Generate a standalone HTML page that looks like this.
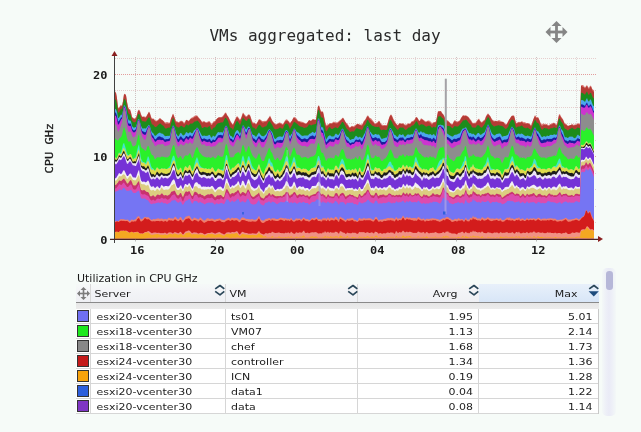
<!DOCTYPE html>
<html><head><meta charset="utf-8">
<style>
html,body{margin:0;padding:0;}
body{width:641px;height:432px;overflow:hidden;background:#f6fbf8;position:relative;font-family:"DejaVu Sans","Liberation Sans",sans-serif;}
svg.chart{position:absolute;left:0;top:0;}
.gm{stroke:#e2c0c0;stroke-width:1;stroke-dasharray:1 1;opacity:.75}
.gM{stroke:#e08c8c;stroke-width:1;stroke-dasharray:1 1;opacity:.85}
.vm{stroke:#d6cccc;stroke-width:1;stroke-dasharray:1 1;opacity:.75}
.vM{stroke:#c8b8b8;stroke-width:1;stroke-dasharray:1 1;opacity:.85}
.tk{stroke:#707070;stroke-width:1;opacity:.45}
.ax{font-family:"DejaVu Sans Mono",monospace;font-size:12px;font-weight:bold;fill:#1a1a1a}
.ttl{font-family:"DejaVu Sans Mono",monospace;font-size:16px;fill:#2a2a2a}
.yl{font-family:"DejaVu Sans Mono",monospace;font-size:12px;fill:#1a1a1a;stroke:#1a1a1a;stroke-width:0.35px}
.cap{position:absolute;left:77px;top:272px;font-size:11px;color:#1a1a1a;white-space:nowrap;transform:scaleY(0.9);transform-origin:0 10.2px}
.tbl{position:absolute;left:76px;top:284px;width:522.5px;}
.hdr{position:absolute;left:0;top:0;width:522.5px;height:18px;background:linear-gradient(#f6f9f8,#f3f4f7 40%,#eff0f4);border-bottom:1px solid #8a8a8a;}
.hc{position:absolute;top:0;height:18px;font-size:11px;color:#1a1a1a;line-height:19px;white-space:nowrap;transform:scaleY(0.86);transform-origin:0 13.3px}
.band{position:absolute;left:0;top:19px;width:522.5px;height:5.5px;background:linear-gradient(#e6e6e6,#ececec)}
.body{position:absolute;left:0;top:24.5px;width:522.5px;height:105px;background:#fff;}
.row{position:absolute;left:0;width:522.5px;height:15px;border-bottom:1px solid #d6d6d6;box-sizing:border-box}
.cell{position:absolute;top:0;height:14px;font-size:11px;line-height:15px;color:#1c1c1c;white-space:nowrap;transform:scaleY(0.86);transform-origin:0 11.3px}
.sw{position:absolute;left:1px;top:1.5px;width:10px;height:10px;border:1px solid #333}
.vl{position:absolute;top:0;width:1px;background:#d6d6d6}
.sb{position:absolute;left:602px;top:267.5px;width:14px;height:148px;border-radius:5px;background:linear-gradient(to right,rgba(238,242,246,0.3),#edeff7 30%,#eaebf6 50%,#edeff7 70%,rgba(238,242,246,0.3))}
.sbt{position:absolute;left:4.1px;top:3.3px;width:6.6px;height:19.3px;border-radius:3.3px;background:#b6b7d8}
</style></head><body>
<svg class="chart" width="641" height="432" viewBox="0 0 641 432">
<g><line x1="115" x2="597" y1="222.5" y2="222.5" class="gm"/>
<line x1="115" x2="597" y1="206.5" y2="206.5" class="gm"/>
<line x1="115" x2="597" y1="189.5" y2="189.5" class="gm"/>
<line x1="115" x2="597" y1="173.5" y2="173.5" class="gm"/>
<line x1="115" x2="597" y1="156.5" y2="156.5" class="gM"/>
<line x1="115" x2="597" y1="140.5" y2="140.5" class="gm"/>
<line x1="115" x2="597" y1="123.5" y2="123.5" class="gm"/>
<line x1="115" x2="597" y1="107.5" y2="107.5" class="gm"/>
<line x1="115" x2="597" y1="90.5" y2="90.5" class="gm"/>
<line x1="115" x2="597" y1="74.5" y2="74.5" class="gM"/>
<line x1="115" x2="597" y1="58.5" y2="58.5" class="gm"/>
<line y1="57" y2="238.0" x1="135.5" x2="135.5" class="vM"/>
<line y1="57" y2="238.0" x1="155.5" x2="155.5" class="vm"/>
<line y1="57" y2="238.0" x1="175.5" x2="175.5" class="vm"/>
<line y1="57" y2="238.0" x1="195.5" x2="195.5" class="vm"/>
<line y1="57" y2="238.0" x1="215.5" x2="215.5" class="vM"/>
<line y1="57" y2="238.0" x1="235.5" x2="235.5" class="vm"/>
<line y1="57" y2="238.0" x1="255.5" x2="255.5" class="vm"/>
<line y1="57" y2="238.0" x1="275.5" x2="275.5" class="vm"/>
<line y1="57" y2="238.0" x1="295.5" x2="295.5" class="vM"/>
<line y1="57" y2="238.0" x1="315.5" x2="315.5" class="vm"/>
<line y1="57" y2="238.0" x1="335.5" x2="335.5" class="vm"/>
<line y1="57" y2="238.0" x1="355.5" x2="355.5" class="vm"/>
<line y1="57" y2="238.0" x1="375.5" x2="375.5" class="vM"/>
<line y1="57" y2="238.0" x1="395.5" x2="395.5" class="vm"/>
<line y1="57" y2="238.0" x1="415.5" x2="415.5" class="vm"/>
<line y1="57" y2="238.0" x1="435.5" x2="435.5" class="vm"/>
<line y1="57" y2="238.0" x1="456.5" x2="456.5" class="vM"/>
<line y1="57" y2="238.0" x1="476.5" x2="476.5" class="vm"/>
<line y1="57" y2="238.0" x1="496.5" x2="496.5" class="vm"/>
<line y1="57" y2="238.0" x1="516.5" x2="516.5" class="vm"/>
<line y1="57" y2="238.0" x1="536.5" x2="536.5" class="vM"/>
<line y1="57" y2="238.0" x1="556.5" x2="556.5" class="vm"/>
<line y1="57" y2="238.0" x1="576.5" x2="576.5" class="vm"/></g>
<defs><filter id="sf" x="-2%" y="-2%" width="104%" height="104%"><feGaussianBlur stdDeviation="0.35"/></filter></defs>
<g filter="url(#sf)"><path fill="#dc7c78" d="M115 239.0V91.2l1 1.4 1 5.7 1 9.1 1 -0 1 -1.4 1 -1.4 1 1.3 1 -5.1 1 -6.7 1 -0.3 1 1.1 1 6.7 1 4.9 1 2.6 1 -0 1 2.8 1 4.8 1 0.8 1 1.1 1 -0.5 1 -0.6 1 -3.1 1 -4.1 1 -0.7 1 1.2 1 3.1 1 2.5 1 0.1 1 -0.3 1 0.6 1 -0.1 1 -1.8 1 -1.6 1 -1.7 1 1.7 1 3.1 1 2.3 1 -0.4 1 0.8 1 0.8 1 0.6 1 0 1 -0.8 1 -0.9 1 -1.1 1 1.2 1 0.8 1 0.8 1 0.7 1 1.3 1 -0.2 1 -0.4 1 0.3 1 0.5 1 -0.4 1 -4 1 -2.3 1 -2.6 1 2.2 1 2.6 1 3.1 1 -0.2 1 0.8 1 0.2 1 -1 1 -0.4 1 -0 1 0.9 1 1.1 1 -0.6 1 -2.1 1 -0.3 1 1 1 -0.1 1 -1.3 1 -1.4 1 -0.4 1 -0.5 1 -0.8 1 -0.6 1 0 1 -0.4 1 1.4 1 1.2 1 1.2 1 1.3 1 1.4 1 -0.1 1 -0.6 1 0.8 1 0.4 1 -0.1 1 -0.5 1 -0.6 1 0.4 1 2.2 1 0.2 1 -1.9 1 -0.8 1 0 1 -1.4 1 -1.2 1 -0.8 1 -0.6 1 0.3 1 -0.4 1 -0.3 1 -1.1 1 -1.2 1 -1.7 1 -0.3 1 2.4 1 1.4 1 1.7 1 2 1 1.9 1 1.5 1 1.2 1 -2.5 1 -2.4 1 -1.9 1 -1.8 1 1 1 1.3 1 1.6 1 -1.9 1 -2.8 1 -2.7 1 1.3 1 1.3 1 1 1 0.1 1 -1.5 1 -0.3 1 0.7 1 2.8 1 2.9 1 2.1 1 -0.5 1 0.8 1 1.1 1 -1.5 1 -1.8 1 -1.9 1 0.5 1 0.3 1 1.3 1 -0.1 1 -0.1 1 -0.1 1 0.3 1 -1 1 -1.5 1 -1.4 1 -1.6 1 1.9 1 2.2 1 1.7 1 1.2 1 1 1 0.7 1 -0.9 1 -0 1 -0.9 1 0.1 1 0.5 1 0.5 1 0.5 1 -1.8 1 -1.8 1 -0.9 1 -0.4 1 1.2 1 0.9 1 1.7 1 -1.6 1 -0.9 1 -2.3 1 -1.4 1 0.8 1 0.2 1 1.5 1 1.5 1 0.2 1 0.2 1 0.4 1 0.1 1 0.4 1 0.5 1 0.6 1 0.3 1 -0.7 1 -1.4 1 -1.1 1 0.1 1 0.5 1 -0.8 1 -1.2 1 0.4 1 0.1 1 0.4 1 -6.7 1 -7 1 -0.9 1 3.2 1 2.9 1 -0.1 1 0.2 1 4.4 1 5 1 4.2 1 -0.4 1 -0 1 -0.8 1 -0.7 1 0.1 1 -0.3 1 -1 1 -0.5 1 0.8 1 -0.1 1 0.4 1 -0.7 1 -0.9 1 -0.9 1 -0.5 1 -1.3 1 -0.8 1 1.7 1 1.9 1 1.4 1 1.2 1 0.9 1 2.1 1 0.7 1 -0.8 1 -0.8 1 0.5 1 -0.1 1 -1 1 -0.7 1 -0.2 1 -0.4 1 0.5 1 0.2 1 0.1 1 -0.4 1 -1.5 1 -1.9 1 -0.9 1 -1.9 1 -2 1 -0.7 1 1.6 1 1 1 0.4 1 1.2 1 1.3 1 1.3 1 1.6 1 -0.6 1 -0.6 1 -0.7 1 -1.3 1 1.4 1 2 1 0.7 1 0.4 1 0 1 -0.1 1 -0 1 -0.2 1 -3.3 1 -3.4 1 -2.5 1 -1.2 1 1.2 1 2.5 1 2 1 1.7 1 1.5 1 1.2 1 0.9 1 -1.8 1 -0.6 1 0.5 1 0.1 1 -0.4 1 0.8 1 0.5 1 0.1 1 -0.2 1 -1.1 1 0.2 1 0.5 1 -1.9 1 -1.1 1 0 1 -1 1 -1.1 1 -1.9 1 0.3 1 1.6 1 2 1 -0.6 1 -1.9 1 0.5 1 0.7 1 0.8 1 0.6 1 0.6 1 -0.4 1 -0.7 1 0.1 1 0.4 1 1.1 1 1 1 -0.6 1 -0.5 1 0.3 1 -0.6 1 -5.3 1 -5.3 1 0.1 1 -0.2 1 -0 1 2 1 1 1 1.6 1 2.1 1 1.6 1 0.8 1 0.5 1 0.9 1 1.3 1 1 1 0.3 1 -1.1 1 -2.2 1 -0.8 1 1 1 0.5 1 -0.1 1 -0.6 1 -0.7 1 -2.2 1 -1.2 1 -1.6 1 0.3 1 0.1 1 -0.1 1 0.6 1 0.7 1 0.9 1 1.5 1 1 1 2 1 0.9 1 -0.2 1 0 1 -0.4 1 -1.9 1 -1.2 1 -0.7 1 1.9 1 1.2 1 0.6 1 -1.4 1 -0.6 1 -1.3 1 -2.9 1 -1.4 1 -1.4 1 1.4 1 1.1 1 1.7 1 1.8 1 0.8 1 0.8 1 0 1 0 1 0.1 1 -0.4 1 -0.5 1 0.5 1 0.5 1 0.6 1 0.1 1 0.5 1 1.4 1 0.8 1 -1.2 1 -1.6 1 -1.8 1 -1.4 1 -1.6 1 -1.3 1 0 1 -0.2 1 3.8 1 3.7 1 -0.1 1 -0.7 1 -0.3 1 0.4 1 -0.4 1 -0.6 1 1 1 0.2 1 -0.3 1 1 1 -0.1 1 0.1 1 0.4 1 0.5 1 1.6 1 -2.3 1 -3 1 -2.6 1 -2.5 1 1.3 1 0.9 1 -0.2 1 1.9 1 2.6 1 2.4 1 0.3 1 -0.7 1 -0.1 1 0.7 1 -0.2 1 0.1 1 0.8 1 0.2 1 -0.8 1 -0.5 1 -0.3 1 -0.8 1 0.1 1 0.5 1 1.3 1 -0.5 1 -4.9 1 -4.9 1 -0.1 1 2.2 1 1.4 1 1.5 1 2.5 1 2.1 1 -0.3 1 1.3 1 0.9 1 -0.2 1 -0.4 1 -0.3 1 -0.8 1 0.5 1 0.3 1 -0.6 1 0.3 1 -0.7 1 -0.8 1 0.5 1 0.3 1 -38.5 1 -0.4 1 0.1 1 1 1 1.3 1 -1.5 1 -0.9 1 1.9 1 0.9 1 -2.1 1 0.1 1 2.8 1 1.1 1 0.4V239.0Z"/>
<path fill="#b53b35" d="M115 239.0V92.3l1 0.8 1 5.6 1 9.5 1 0.3 1 -1.5 1 -1.6 1 1.1 1 -5.1 1 -6.8 1 -0.3 1 1.2 1 6.8 1 5.3 1 2.2 1 0.1 1 3.2 1 4.6 1 0.2 1 1.4 1 -0.2 1 -0.9 1 -3.2 1 -4.1 1 -0.5 1 1.7 1 3 1 1.9 1 0.1 1 0 1 0.6 1 -0.2 1 -1.9 1 -1.8 1 -1.8 1 2 1 3.4 1 2.1 1 -0.7 1 1 1 1.2 1 0.5 1 -0.2 1 -0.8 1 -0.7 1 -1.3 1 1 1 0.6 1 0.6 1 1.2 1 1.6 1 0.2 1 -0.2 1 -0.1 1 0.3 1 -0.7 1 -4.2 1 -2.3 1 -2.4 1 2.5 1 2.8 1 3 1 -0.5 1 0.9 1 0.1 1 -0.9 1 -0.4 1 -0.1 1 1.1 1 1.3 1 -1 1 -2.7 1 -0.3 1 1.3 1 -0 1 -1.4 1 -1 1 -0.2 1 -0.4 1 -0.8 1 -0.6 1 -0.4 1 -0.4 1 1.6 1 1 1 0.9 1 1.3 1 1.7 1 -0 1 -0.9 1 0.9 1 0.4 1 -0 1 -0.4 1 -0.6 1 0.5 1 2.5 1 0.1 1 -2 1 -0.6 1 -0.4 1 -1.9 1 -1.3 1 -0.7 1 -0.6 1 0.1 1 -0.2 1 -0 1 -0.7 1 -1.3 1 -1.9 1 -0.2 1 2.2 1 1.1 1 2 1 2.5 1 1.7 1 1.2 1 1.2 1 -2.5 1 -2.2 1 -1.9 1 -1.8 1 1.2 1 1.6 1 1.5 1 -2 1 -2.8 1 -3 1 1.4 1 1.6 1 0.9 1 -0.2 1 -1.8 1 -0.2 1 0.7 1 3.2 1 3 1 2 1 -0.8 1 0.6 1 1 1 -1.5 1 -1.5 1 -2 1 0.5 1 0.5 1 1.6 1 0.1 1 -0.1 1 -0.5 1 0 1 -0.8 1 -1.5 1 -1.7 1 -1.4 1 2 1 2.3 1 1.6 1 1.1 1 0.9 1 0.8 1 -0.8 1 -0.4 1 -0.7 1 0.2 1 0.5 1 0.6 1 0.6 1 -1.8 1 -1.7 1 -0.8 1 -0.4 1 0.8 1 1.1 1 1.4 1 -1.8 1 -1 1 -2.1 1 -1.2 1 1 1 0.3 1 1.3 1 1.3 1 0.2 1 0.4 1 0.6 1 0.1 1 0.1 1 0.4 1 0.5 1 0.2 1 -0.7 1 -1.6 1 -1.4 1 0.1 1 0.5 1 -0.8 1 -0.9 1 0.9 1 0 1 -0.1 1 -6.8 1 -6.7 1 -0.8 1 3.5 1 3 1 -0.2 1 0.2 1 4.6 1 5.2 1 4.5 1 -0.6 1 -0.4 1 -1.1 1 -0.8 1 0.1 1 -0 1 -0.7 1 -0.3 1 0.6 1 -0.1 1 0.3 1 -0.8 1 -0.8 1 -0.9 1 -0.8 1 -1.3 1 -0.9 1 1.4 1 2.1 1 1.6 1 1.7 1 0.8 1 1.9 1 0.5 1 -0.9 1 -0.5 1 0.5 1 0.2 1 -0.8 1 -1.2 1 -1 1 -0.3 1 0.7 1 0.2 1 0.6 1 0.1 1 -1.6 1 -2.4 1 -1.1 1 -1.5 1 -2 1 -0.9 1 1.6 1 1.5 1 0.7 1 1 1 1 1 1 1 1.6 1 -0.7 1 -0.4 1 -1 1 -1.4 1 1.5 1 2.3 1 1 1 0.4 1 -0.4 1 -0.1 1 0.2 1 -0.2 1 -3.8 1 -3.5 1 -2.4 1 -0.9 1 1.5 1 2.5 1 2.2 1 1.3 1 1.3 1 1 1 0.8 1 -1.6 1 -0.6 1 0.5 1 0.1 1 -0.3 1 0.9 1 0.8 1 0.1 1 -0.3 1 -1.3 1 -0.3 1 0.6 1 -1.4 1 -1.2 1 0.2 1 -0.9 1 -1.3 1 -2.1 1 -0.1 1 1.5 1 2 1 -0 1 -1.8 1 0.3 1 0.6 1 1 1 0.8 1 0.3 1 -0.5 1 -0.4 1 0.6 1 0.6 1 1.2 1 1 1 -1.2 1 -0.9 1 -0.2 1 -0.3 1 -5.2 1 -5.1 1 -0.1 1 -0.5 1 0.3 1 2 1 0.8 1 1.8 1 2.3 1 1.6 1 1.1 1 0.5 1 0.5 1 1.1 1 1.1 1 0.6 1 -1.1 1 -2.2 1 -0.7 1 1.1 1 0.4 1 -0.3 1 -0.6 1 -0.7 1 -2.3 1 -1.5 1 -1.3 1 0.5 1 -0.2 1 -0.3 1 0.8 1 0.6 1 1.1 1 1.7 1 1.1 1 1.9 1 0.8 1 -0.3 1 0.1 1 -0.3 1 -1.8 1 -1.1 1 -0.7 1 1.8 1 1.1 1 0.5 1 -1.4 1 -0.4 1 -1.2 1 -3.2 1 -1.3 1 -1.5 1 1.2 1 0.9 1 2 1 2 1 0.9 1 0.7 1 -0.4 1 -0.3 1 0.6 1 -0.2 1 -0.2 1 0.7 1 0.1 1 -0.1 1 0.2 1 0.9 1 1.6 1 0.5 1 -1.2 1 -1.6 1 -2.2 1 -1.5 1 -1.6 1 -1.2 1 0.4 1 -0.1 1 3.7 1 3.7 1 -0.1 1 -0.7 1 -0.2 1 0.2 1 -0.4 1 -0.5 1 1.4 1 0.4 1 -0.4 1 0.8 1 -0.4 1 0 1 0.5 1 0.6 1 1.7 1 -2.5 1 -3.4 1 -2.5 1 -1.9 1 1.7 1 0.5 1 -0.8 1 2.1 1 2.5 1 2.6 1 1.2 1 -0.7 1 -0.6 1 0.4 1 -0.2 1 0.3 1 1 1 0 1 -1.1 1 -0.5 1 -0.1 1 -1 1 -0.2 1 0.8 1 1.4 1 -0.7 1 -4.5 1 -4.9 1 0.2 1 2.1 1 1.2 1 1.3 1 2.4 1 2 1 -0.1 1 1.2 1 0.6 1 -0.5 1 -0.5 1 -0.3 1 -0.4 1 0.9 1 0.3 1 -0.7 1 0.2 1 -0.8 1 -0.4 1 0.5 1 -0.1 1 -38.7 1 0.2 1 1 1 0.4 1 1.1 1 -1.4 1 -1.3 1 2.2 1 1.4 1 -2.4 1 -0.4 1 2.8 1 1.9 1 0.5V239.0Z"/>
<path fill="#1f8c1f" d="M115 239.0V99.3l1 0.7 1 4.3 1 8.3 1 0 1 -1.8 1 -2.4 1 1 1 -4.5 1 -6.2 1 0.9 1 2 1 5.6 1 4.8 1 2.4 1 -0.3 1 2 1 4.7 1 1 1 0.8 1 -0.5 1 -0.6 1 -3.4 1 -3.7 1 -0.6 1 1.7 1 3.1 1 2.4 1 0.3 1 -0.1 1 0.5 1 -0.2 1 -1.8 1 -1.4 1 -1.3 1 1.4 1 3.3 1 2.9 1 0 1 1.2 1 1.2 1 0 1 -0.8 1 -1.1 1 -0.8 1 -1.1 1 0.8 1 1.1 1 0.3 1 1.1 1 1.7 1 0.2 1 -0.2 1 -0.6 1 0.2 1 -0.2 1 -4.2 1 -3 1 -2.6 1 2 1 3.2 1 3.5 1 -0.1 1 1.2 1 -0.2 1 -0.8 1 -0.9 1 0.3 1 0.9 1 0.6 1 -0.8 1 -2 1 -0.3 1 1.1 1 -0.3 1 -1.5 1 -0.3 1 0.4 1 -0.8 1 -1.1 1 -0.7 1 0.3 1 -0.9 1 0.5 1 1.1 1 1.4 1 2 1 2.3 1 0.2 1 -1 1 -0.1 1 0.3 1 0.2 1 -0.2 1 -1.1 1 -0 1 3 1 0.9 1 -2.1 1 -0.5 1 -0.2 1 -2 1 -1.4 1 -0.7 1 -0.1 1 -0.2 1 -0.7 1 0.4 1 -0.4 1 -1.9 1 -2.4 1 -0.2 1 1.7 1 1.4 1 3.2 1 3.2 1 0.8 1 0.3 1 1.6 1 -2.3 1 -3 1 -2.3 1 -1.6 1 1.1 1 1.5 1 1.7 1 -2.2 1 -3.2 1 -2.2 1 1.5 1 0.9 1 1.1 1 -0.1 1 -2 1 -0.2 1 0.8 1 3.6 1 2.9 1 1.8 1 -0.3 1 1 1 1.2 1 -1.8 1 -1.7 1 -1.4 1 0.4 1 0.8 1 1.6 1 -0.2 1 -0.1 1 -0.9 1 0.2 1 -1.5 1 -2.2 1 -1.5 1 -0.1 1 2.1 1 1.2 1 1.9 1 2 1 0.6 1 0.4 1 -0.6 1 0.3 1 -1.2 1 -0.4 1 0.6 1 0.7 1 -0.2 1 -2.3 1 -2.1 1 -0.6 1 0.2 1 0.7 1 2.2 1 2.5 1 -2.1 1 -1.4 1 -2.3 1 -1.6 1 0.5 1 0.7 1 0.8 1 0.9 1 1.1 1 0.4 1 0.5 1 0 1 0.6 1 0.6 1 -0.1 1 -0.2 1 -0.4 1 -1.1 1 -1.5 1 -0 1 0.8 1 -0.4 1 -0.6 1 0.2 1 -0.6 1 -0.2 1 -6.8 1 -6.8 1 -0.3 1 3.9 1 3.4 1 0.2 1 0.6 1 4.4 1 4.5 1 4.6 1 -0.7 1 -1.7 1 -1.8 1 -0.1 1 1.3 1 0.7 1 -0.7 1 -0.4 1 -0.5 1 -0.3 1 0.9 1 -0.3 1 -1.2 1 -1.5 1 -1.5 1 -1.6 1 -0.2 1 1.5 1 2 1 2 1 1.8 1 0.2 1 1.5 1 1.2 1 -0.3 1 -0.6 1 0.4 1 -0 1 -1.5 1 -1.6 1 -0.3 1 0.4 1 0.7 1 -0.3 1 0.8 1 0.2 1 -1.8 1 -2.4 1 -0.5 1 -2 1 -3 1 -0.6 1 2.2 1 1.4 1 1 1 1.3 1 0.4 1 0.3 1 0.6 1 -0.2 1 0.4 1 -0.2 1 -0.3 1 1.9 1 1.7 1 -0.2 1 -0.3 1 -0.1 1 0.5 1 -0 1 -0.3 1 -3.6 1 -4 1 -2.1 1 0.1 1 1.8 1 2.2 1 1.8 1 0.7 1 1.6 1 0.9 1 0.7 1 -1.6 1 -0.7 1 0 1 0.2 1 -0.5 1 1.2 1 1.1 1 0.3 1 -0.8 1 -1.2 1 -0.6 1 0.1 1 -0.9 1 -0.9 1 -0.1 1 -1 1 -1.3 1 -2 1 0.4 1 1.9 1 2.1 1 -0.4 1 -1.3 1 0.5 1 -0 1 0.6 1 1 1 0.4 1 -0 1 -0.7 1 -0 1 0 1 1 1 1.2 1 -0.9 1 -0.6 1 1 1 -0.5 1 -5.5 1 -4.9 1 0 1 -0.5 1 0.5 1 1.5 1 0.2 1 1.8 1 2.9 1 1.5 1 1.3 1 0.4 1 -0.1 1 0.2 1 0.9 1 1.2 1 -0.3 1 -1.5 1 -0.6 1 0.7 1 0 1 -0.1 1 -1 1 -0.9 1 -1.5 1 -1.2 1 -1.7 1 0.2 1 -0.4 1 -0.4 1 0.9 1 1.3 1 1.5 1 0.8 1 0.9 1 2.2 1 0.3 1 0.1 1 0.1 1 -0.5 1 -1.9 1 0 1 0 1 1.3 1 0.8 1 0.2 1 -1.4 1 -1.1 1 -1.8 1 -3.1 1 -1.5 1 -1.8 1 1.2 1 2.1 1 2.8 1 1.8 1 0.7 1 1 1 -0.3 1 -0.5 1 0 1 -0.4 1 0 1 0.5 1 -0.1 1 0.3 1 0.6 1 0.8 1 1.2 1 0.3 1 -1 1 -1 1 -2.7 1 -2 1 -1.6 1 -1.2 1 0.6 1 0.4 1 3.9 1 3.5 1 -0.8 1 -0.5 1 -0.1 1 0.2 1 -0.9 1 -0.3 1 1.3 1 1 1 0.1 1 0.7 1 -0.8 1 0.1 1 1 1 0.3 1 1.3 1 -2.9 1 -3.1 1 -2.4 1 -2.5 1 1.6 1 1.8 1 -0.1 1 1.5 1 1.9 1 2.4 1 1.2 1 -0.6 1 -1.1 1 0 1 0.5 1 -0.3 1 0.6 1 0.6 1 -0.7 1 -0.8 1 0.3 1 -0.4 1 -0.7 1 0.2 1 0.8 1 -0.8 1 -3.9 1 -4.9 1 0.4 1 2.6 1 1 1 1.4 1 2.8 1 2.1 1 -0.1 1 1.3 1 0.4 1 -1.1 1 -0.5 1 -0.4 1 -0.7 1 0.5 1 1 1 -0 1 -0.2 1 -1.3 1 -0.4 1 0.7 1 0.1 1 -35.4 1 -0 1 0.5 1 0.6 1 0.9 1 -2.1 1 -1.3 1 2.3 1 1.6 1 -2.3 1 -0.2 1 2.7 1 2.3 1 0.8V239.0Z"/>
<path fill="#4ca6ee" d="M115 239.0V108.7l1 0.7 1 2.6 1 5.9 1 -0.1 1 -1.7 1 -1.7 1 0.7 1 -4.7 1 -5.4 1 1.1 1 2 1 5.5 1 5.1 1 2.1 1 -0.6 1 1.4 1 4.5 1 1.2 1 0.5 1 -0.5 1 -0.3 1 -3.5 1 -3.8 1 -0.6 1 3 1 3.6 1 2.4 1 0.6 1 -0.5 1 0.4 1 -0.1 1 -1.6 1 -1.2 1 -1 1 1.9 1 3.3 1 2.5 1 0.3 1 1.7 1 1.5 1 -0.5 1 -1 1 -0.9 1 -0.6 1 -0.4 1 1 1 -0 1 0.4 1 1.1 1 1.3 1 -0.2 1 -0 1 -0.4 1 0.2 1 -0.4 1 -4.4 1 -3.4 1 -2.5 1 1.3 1 2.6 1 4.2 1 1.5 1 1.8 1 -0.8 1 -2.2 1 -0.8 1 1.5 1 1.2 1 -0.3 1 -1 1 -1.9 1 -0 1 1.2 1 -0.5 1 -1.1 1 0.8 1 0.9 1 -1 1 -2 1 -0.9 1 -0.7 1 -1.5 1 0.7 1 1.9 1 1.9 1 2 1 1.8 1 0.3 1 -0.7 1 0.4 1 0.3 1 -0.4 1 0.1 1 -1.1 1 0.6 1 2.3 1 -0 1 -2 1 0.6 1 0.5 1 -1.7 1 -1.6 1 -1.4 1 0.2 1 0.4 1 -0.7 1 0.6 1 0 1 -2.7 1 -3 1 -1.3 1 1.1 1 2.6 1 3.7 1 2.7 1 0.5 1 0.3 1 1.8 1 -2.1 1 -3.3 1 -1.5 1 -1.2 1 0.4 1 1.5 1 2 1 -2.5 1 -4 1 -2.5 1 1.3 1 1.7 1 1.4 1 -1 1 -1.8 1 0.2 1 0.9 1 3.1 1 2.8 1 1.5 1 -0.2 1 1 1 1.1 1 -1.4 1 -1.8 1 -1.4 1 1.5 1 1.3 1 1 1 -0.3 1 0.7 1 -1.7 1 -0.3 1 -2 1 -2.2 1 -1.1 1 0.3 1 1.3 1 0.8 1 2.4 1 3.5 1 1.5 1 -0.3 1 -1.4 1 -0.4 1 -0.4 1 0 1 0 1 0.5 1 -0.8 1 -2.2 1 -2.7 1 -1.3 1 0.4 1 0.8 1 2.9 1 2.4 1 -2 1 -1 1 -2.8 1 -2.3 1 0.4 1 1.9 1 1.4 1 -0 1 1 1 0.7 1 1.4 1 0.5 1 0.1 1 -0.3 1 -0.2 1 0.2 1 0 1 -0.2 1 -1.1 1 -0.9 1 -0.2 1 -1 1 -0.4 1 1.1 1 -0.1 1 -1.5 1 -6.8 1 -5.8 1 -0.2 1 3.5 1 4.4 1 1 1 -0.1 1 4.3 1 4.1 1 4.1 1 -1.5 1 -1.7 1 -0.9 1 -0.4 1 0.7 1 0.7 1 -0.4 1 0.1 1 -1.8 1 -1 1 0.9 1 0.5 1 -0.6 1 -1.9 1 -2.1 1 -1.7 1 0 1 2 1 2.7 1 2.3 1 1.1 1 0.2 1 1.3 1 1.6 1 -0.2 1 -0.7 1 0.1 1 -0.3 1 -2.1 1 -0.9 1 0.6 1 1.1 1 -0.3 1 -0.7 1 1.2 1 0.3 1 -1.4 1 -2.1 1 -1.7 1 -3 1 -3.2 1 -0.2 1 2.9 1 2.2 1 1.1 1 1.5 1 0.7 1 0.1 1 -0.9 1 -0.1 1 0.8 1 -0.1 1 -0.1 1 1.5 1 2.2 1 0.8 1 -0.4 1 -0.4 1 -0.1 1 -0.6 1 0.1 1 -3.1 1 -4.2 1 -2.2 1 0.5 1 1.7 1 1.5 1 2.8 1 0.3 1 0.8 1 1.3 1 -0.3 1 -2.2 1 -0.2 1 0.6 1 0.1 1 -0.9 1 1.6 1 1.3 1 -0.7 1 -1.5 1 -0.4 1 0.2 1 0.5 1 -0.9 1 0.1 1 0.1 1 -2.3 1 -2.4 1 -1.5 1 1.1 1 2.1 1 1.6 1 -1.1 1 -0.8 1 1.5 1 -0.2 1 -0.1 1 1.3 1 0.1 1 0.3 1 0.2 1 0.6 1 -0.8 1 0.4 1 1.2 1 -1.1 1 -0.4 1 1.7 1 -0.1 1 -5.6 1 -4.8 1 -0.2 1 -0.4 1 -0 1 0.7 1 -0.5 1 1.8 1 3.1 1 1.7 1 1.9 1 0.5 1 1 1 0.7 1 0.5 1 0.5 1 -0.2 1 -1.1 1 -0.6 1 0.1 1 -0.3 1 -0.4 1 -0.5 1 -0.4 1 -2.1 1 -1.6 1 -1.3 1 0.5 1 -1 1 -0.4 1 2 1 1.7 1 2.1 1 0.2 1 -0.2 1 1.3 1 -0.9 1 0.8 1 1 1 0.3 1 -1.9 1 -0.6 1 -0 1 1.6 1 0 1 -0.6 1 -0.9 1 -0.5 1 -1.1 1 -2.9 1 -2.5 1 -2 1 1.7 1 2.5 1 3.2 1 2 1 0.8 1 0.8 1 0.2 1 -1.1 1 -0.3 1 -0.3 1 -0.3 1 -0 1 1.1 1 2.2 1 -0.2 1 -0.4 1 -0.1 1 -0.2 1 -0.5 1 -0.5 1 -2.5 1 -2.2 1 -2 1 -1.6 1 1.4 1 0.9 1 3.5 1 3.1 1 -1.1 1 -0.6 1 -0.3 1 1 1 -0.9 1 0.2 1 0.6 1 1 1 0.5 1 0.5 1 -0.5 1 -0.2 1 0.7 1 -0.3 1 0.9 1 -2.4 1 -3.1 1 -2.4 1 -1.8 1 2.2 1 2 1 -0.5 1 1.9 1 1.3 1 2 1 1.1 1 -0.5 1 -0.6 1 0.3 1 0.4 1 -1.2 1 0.3 1 0.2 1 -1 1 -0.4 1 0.4 1 -0 1 -0.8 1 0.2 1 0.6 1 -0.9 1 -3.9 1 -4.8 1 0.3 1 2.9 1 1.4 1 1.2 1 3.4 1 2.7 1 -0.3 1 0.6 1 0.2 1 -1 1 -0.3 1 0.1 1 -0.1 1 0.5 1 1.2 1 -0.2 1 -0.7 1 -2 1 -0.8 1 1.1 1 0.3 1 -35.7 1 -0.3 1 0.3 1 0.8 1 1 1 -2.4 1 -1.6 1 2.7 1 1 1 -2.4 1 0.3 1 3.1 1 2.7 1 0.7V239.0Z"/>
<path fill="#1c1c9e" d="M115 239.0V112.2l1 0.7 1 3.1 1 5.6 1 -0.5 1 -1.7 1 -2 1 -0.1 1 -5.6 1 -5.8 1 1.7 1 3.1 1 6.5 1 5 1 1.8 1 -0.8 1 1 1 4.1 1 1.7 1 0.6 1 -0.6 1 -0.9 1 -4 1 -4.4 1 -1 1 3.6 1 4.6 1 2.8 1 0.9 1 0.1 1 0.8 1 -0.7 1 -2.7 1 -2.1 1 -1.5 1 2.5 1 4.3 1 2.9 1 0.4 1 1.8 1 2 1 -0.3 1 -1.3 1 -1 1 -0.2 1 -0.3 1 0.9 1 0 1 0.5 1 1.1 1 0.9 1 -0.6 1 0.1 1 -0.3 1 -0.1 1 -0.9 1 -5 1 -4.2 1 -2.7 1 1.7 1 3.3 1 4.7 1 1.8 1 2 1 -0.7 1 -2.1 1 -0.5 1 1.3 1 1.3 1 -0 1 -1 1 -1.7 1 -0.2 1 1.3 1 -0.6 1 -1.5 1 0.8 1 0.8 1 -1.1 1 -2.3 1 -1.6 1 -1.8 1 -1.8 1 1.2 1 3 1 2.8 1 2.2 1 1.7 1 -0 1 -0.8 1 0.6 1 0.4 1 0.2 1 0.4 1 -1.1 1 0.4 1 1.8 1 -0.2 1 -1.4 1 0.7 1 0.3 1 -2 1 -1.4 1 -1.5 1 -0.5 1 0.2 1 -0.3 1 0.7 1 -0.2 1 -3.6 1 -3.8 1 -1.8 1 1.4 1 3.6 1 4.3 1 2.8 1 0.5 1 0.3 1 1.7 1 -1.6 1 -3 1 -1.9 1 -1.2 1 0.7 1 1.5 1 1.5 1 -3.3 1 -4.9 1 -2.9 1 1.9 1 3.3 1 2.2 1 -1.6 1 -2.8 1 -0.8 1 0.6 1 3.6 1 3.8 1 2.5 1 0.1 1 0.9 1 1.1 1 -1.3 1 -1.8 1 -1.4 1 1.2 1 1.2 1 1 1 -0.1 1 0.9 1 -2.1 1 -0.9 1 -2.1 1 -2.7 1 -2 1 0 1 1.8 1 1.8 1 3.4 1 3.7 1 1 1 -0.5 1 -1.2 1 0.2 1 -0.2 1 -0.4 1 -0.1 1 0.8 1 -0.9 1 -2.6 1 -3.8 1 -2.2 1 0.1 1 1.4 1 4.2 1 2.9 1 -2.4 1 -2.1 1 -3.5 1 -2.6 1 0.9 1 3 1 2.1 1 0.6 1 1.1 1 0.6 1 1.3 1 0.5 1 -0.3 1 -0.4 1 -0.3 1 0.8 1 0.3 1 -0.5 1 -1.4 1 -1.1 1 -0.1 1 -0.6 1 -0.2 1 1.1 1 -0 1 -2.2 1 -7.9 1 -6.7 1 -0.1 1 4.3 1 5 1 1.5 1 0.1 1 4 1 4.1 1 3.9 1 -1.1 1 -1.1 1 -1.2 1 -0.4 1 0.4 1 0.3 1 -0.3 1 0.7 1 -1.9 1 -0.9 1 0.9 1 0 1 -1.2 1 -1.9 1 -2.7 1 -2.5 1 0.1 1 2.8 1 3.7 1 2.6 1 1.4 1 0.6 1 0.9 1 1.5 1 -0.2 1 -0.8 1 0.2 1 -0.1 1 -1.9 1 -0.9 1 0.3 1 0.4 1 -0.7 1 -0.2 1 1.8 1 0.7 1 -1.8 1 -2.4 1 -2 1 -4.1 1 -3.9 1 -0.6 1 3 1 3.1 1 2.2 1 2.1 1 0.7 1 -0 1 -0.9 1 0.1 1 1 1 0.3 1 -0.5 1 1 1 1.9 1 0.9 1 -0 1 -0 1 0 1 -1.1 1 -0.6 1 -3.6 1 -4.8 1 -2.7 1 0.5 1 2.6 1 2.6 1 3.1 1 0.3 1 0.7 1 0.8 1 -0 1 -1.4 1 -0.5 1 -0.3 1 0.3 1 -0.5 1 1.7 1 1.1 1 -1 1 -1.2 1 0.1 1 -0.2 1 0 1 -1 1 0.2 1 0.3 1 -3 1 -3.5 1 -1.9 1 1.6 1 2.9 1 2.1 1 -0.5 1 -1 1 1.9 1 0.5 1 0.1 1 0.8 1 -0.2 1 0.3 1 0.2 1 0.9 1 -0.6 1 0.5 1 1.3 1 -1.5 1 -0.6 1 1.9 1 0 1 -6.1 1 -5.7 1 -1.3 1 -0.9 1 0.5 1 1.4 1 -0 1 2.2 1 3.7 1 1.8 1 1.8 1 0.1 1 1.1 1 0.3 1 1.2 1 0.9 1 -1 1 -0.8 1 0.1 1 0.4 1 -0.6 1 -0.7 1 -0.1 1 -0.4 1 -2.8 1 -2.5 1 -2.2 1 -0.3 1 -1 1 0.3 1 3.4 1 2.3 1 2.2 1 0 1 -0.2 1 1.1 1 -1.4 1 1 1 1.3 1 0.6 1 -1.7 1 -0.7 1 -0.2 1 1.4 1 -0 1 -0.6 1 -0.7 1 -1.1 1 -1.4 1 -3.2 1 -3.4 1 -2.5 1 2.3 1 3.9 1 3.7 1 2 1 1.1 1 1 1 0.1 1 -1.1 1 -0.5 1 -0.3 1 -0.5 1 -0.4 1 1.8 1 2.5 1 -0.4 1 -0.6 1 -0.2 1 0.2 1 -0.6 1 -0.7 1 -3.1 1 -2.8 1 -3.2 1 -2 1 1.6 1 1.8 1 4.2 1 2.9 1 -0.5 1 -0.6 1 -0.2 1 1.6 1 -0.5 1 0 1 0.5 1 0.5 1 0.5 1 0.6 1 -1.1 1 -0.7 1 1 1 0 1 0.8 1 -2.3 1 -3.8 1 -3.5 1 -2.1 1 2.7 1 2.9 1 0.2 1 2.4 1 1.4 1 2.1 1 0.7 1 -0.6 1 -0.5 1 0.2 1 0.3 1 -1.2 1 0.3 1 0.1 1 -0.2 1 0.2 1 -0.3 1 -0.6 1 -0.7 1 0.2 1 0.3 1 -1.7 1 -4.5 1 -5.2 1 0.7 1 3.9 1 2.4 1 1.6 1 2.9 1 2.4 1 -0.1 1 0.8 1 0.3 1 -1.2 1 -0.1 1 0.4 1 0.2 1 -0.1 1 0.5 1 -0.5 1 -0.3 1 -1.6 1 -0.8 1 1 1 0.2 1 -34.6 1 -0.2 1 0.4 1 0.6 1 0.6 1 -2.1 1 -1.2 1 2.4 1 1.3 1 -1.8 1 -0.1 1 2.3 1 3.3 1 1.3V239.0Z"/>
<path fill="#cc34cf" d="M115 239.0V115.6l1 0.5 1 3.1 1 5.6 1 -0.8 1 -1.9 1 -2.5 1 -0.9 1 -6 1 -6 1 1.8 1 3.6 1 7.4 1 5.2 1 1.6 1 -0.5 1 0.8 1 3.7 1 1.8 1 0.4 1 -0.4 1 -1.4 1 -4.5 1 -4.9 1 -1.2 1 4.1 1 5.1 1 3.1 1 1.6 1 0.4 1 0.7 1 -0.9 1 -3.4 1 -2.8 1 -1.9 1 2.7 1 5 1 3.5 1 0.6 1 1.8 1 2 1 -0.2 1 -1.2 1 -0.5 1 0.1 1 -0.3 1 0.6 1 -0.2 1 0.1 1 0.9 1 1.2 1 -0.6 1 -0.1 1 -0.4 1 0.1 1 -1 1 -5.6 1 -4.9 1 -3.1 1 1.9 1 3.6 1 4.9 1 2.8 1 2.5 1 -0.5 1 -1.8 1 -0.7 1 1 1 1.3 1 0.3 1 -1.8 1 -1.8 1 0.1 1 1.6 1 -0.8 1 -1.7 1 0.4 1 1 1 -0.7 1 -2.8 1 -2.3 1 -2.3 1 -2.2 1 1.6 1 3.6 1 3.2 1 2.8 1 2.1 1 -0.3 1 -1 1 0.6 1 0.6 1 0.2 1 0.2 1 -0.8 1 0.6 1 1.2 1 0 1 -1.4 1 0.1 1 0.2 1 -1.4 1 -1 1 -1.7 1 -0.6 1 0.4 1 -0.2 1 1.1 1 -0.9 1 -4.5 1 -4.5 1 -2.1 1 1.6 1 4.3 1 4.6 1 2.9 1 0.8 1 0.7 1 1.2 1 -1.7 1 -2.5 1 -2.3 1 -1.9 1 0.8 1 1.5 1 2.2 1 -3.2 1 -6 1 -3.4 1 2 1 3.7 1 3 1 -1.3 1 -3.3 1 -1.6 1 0.3 1 3.8 1 4.2 1 3.3 1 0.9 1 1 1 0.9 1 -1.7 1 -1.9 1 -1.3 1 1.6 1 1.5 1 0.9 1 -0.6 1 0.5 1 -1.9 1 -1 1 -2.3 1 -3.2 1 -2.5 1 -0.2 1 2.2 1 2.5 1 3.8 1 3.8 1 1.1 1 -0.6 1 -1.6 1 0.4 1 -0.1 1 0.3 1 -0.1 1 0.2 1 -1.1 1 -2.7 1 -4.1 1 -3 1 -0.4 1 1.6 1 5 1 3.6 1 -2.5 1 -2.9 1 -4.2 1 -2.8 1 1.1 1 3.6 1 3 1 1.4 1 1.1 1 0.5 1 1.3 1 0.7 1 -0.4 1 -0.3 1 -0.1 1 0.7 1 0.4 1 -1.1 1 -1.4 1 -0.9 1 -0.1 1 -0.2 1 0.1 1 0.4 1 -0.4 1 -2.7 1 -8.7 1 -7.2 1 0.1 1 5.2 1 5.7 1 1.8 1 -0.2 1 4.1 1 4.3 1 4 1 -1.2 1 -1.1 1 -0.8 1 -0.9 1 0.3 1 0.4 1 -0.4 1 0.6 1 -2.4 1 -0.8 1 1 1 0.3 1 -0.5 1 -2.4 1 -3.7 1 -3.2 1 0 1 3.2 1 4.2 1 2.9 1 2 1 0.3 1 0.3 1 1.8 1 0.1 1 -1.2 1 -0 1 -0.2 1 -1.5 1 -0.7 1 -0.1 1 0.7 1 -0.3 1 -0.2 1 2.4 1 0.9 1 -2 1 -3.2 1 -2.4 1 -4.4 1 -4.6 1 -1 1 3.3 1 3.7 1 3 1 2.8 1 1.1 1 -0.1 1 -1.2 1 -0 1 1.1 1 0.2 1 -0.6 1 1.2 1 2.1 1 0.8 1 -0.3 1 -0.4 1 0 1 -1.4 1 -1.2 1 -3.6 1 -5.1 1 -3.1 1 0.5 1 3 1 3.4 1 3.7 1 0.8 1 0.4 1 0.8 1 -0 1 -1.6 1 -0.3 1 0.1 1 0.2 1 -1.1 1 1.4 1 1.2 1 -0.9 1 -1.6 1 0.5 1 -0.1 1 -0.1 1 -0.6 1 -0.1 1 -0.4 1 -3.4 1 -3.9 1 -2.1 1 1.9 1 3.6 1 2.8 1 0.3 1 -1 1 1.2 1 0.7 1 0.4 1 0.7 1 -0.2 1 0.4 1 0 1 1.2 1 -0.6 1 0.5 1 1.1 1 -1.5 1 -0.2 1 2 1 -0.1 1 -6.3 1 -6.4 1 -2.6 1 -1.3 1 0.7 1 2 1 0.5 1 2.4 1 4.1 1 2.2 1 1.7 1 -0.3 1 1.4 1 0.8 1 1.3 1 0.5 1 -1.1 1 -0.8 1 0.1 1 0.4 1 -0.4 1 -0.7 1 -0.4 1 -0.4 1 -3 1 -3.1 1 -2.9 1 -0.8 1 -1.2 1 0.7 1 4.2 1 2.8 1 2.3 1 0.3 1 0.1 1 1.2 1 -1.7 1 0.9 1 1.2 1 0.5 1 -1.3 1 -0.5 1 -0.4 1 1.4 1 0.3 1 -0.7 1 -1.1 1 -1.6 1 -1.7 1 -3.5 1 -4.1 1 -2.7 1 2.7 1 4.3 1 4.3 1 2.2 1 1.1 1 1.1 1 0.4 1 -0.8 1 -0.3 1 -0.3 1 -0.7 1 -0.4 1 1.9 1 2.4 1 -1 1 -0.5 1 -0.2 1 0.6 1 -0.3 1 -0.9 1 -3.6 1 -3.7 1 -3.9 1 -2.3 1 1.9 1 2.7 1 4.6 1 2.5 1 -0.1 1 0 1 -0.1 1 1.7 1 -0.6 1 0.2 1 0.2 1 -0.1 1 0.7 1 1 1 -1 1 -0.4 1 0.9 1 -0.3 1 0.5 1 -2.3 1 -4.6 1 -4.2 1 -2.3 1 3.2 1 3.7 1 0.9 1 3 1 1.8 1 1.6 1 0.2 1 -0.2 1 -0.3 1 -0.3 1 0.1 1 -1.2 1 0.2 1 0.3 1 -0.2 1 0.3 1 -0.3 1 -0.9 1 -1.2 1 0.4 1 0.2 1 -2.4 1 -5.2 1 -5.3 1 1 1 4.7 1 3 1 1.8 1 2.7 1 2.2 1 0.1 1 1.1 1 0.2 1 -1.3 1 -0.2 1 0.5 1 -0.1 1 -0 1 0.8 1 -0.5 1 -0.7 1 -1.4 1 -0.4 1 0.9 1 0 1 -35.1 1 0.4 1 0.7 1 0.2 1 -0.2 1 -2.3 1 -0.8 1 2.4 1 1.1 1 -1.7 1 0.1 1 2.4 1 2.6 1 1.9V239.0Z"/>
<path fill="#8d8d8d" d="M115 239.0V124.4l1 0 1 2.8 1 4.8 1 -1.6 1 -2.1 1 -3.4 1 -2.6 1 -7.5 1 -6.6 1 3 1 5.9 1 8.6 1 5.3 1 1.2 1 -0.9 1 0.6 1 3.4 1 1.9 1 -0.1 1 -0.5 1 -1.8 1 -5.8 1 -6.2 1 -1.8 1 4.9 1 6.7 1 3.7 1 1.6 1 1.4 1 1 1 -1.9 1 -5 1 -3.9 1 -2.3 1 3.4 1 6.3 1 4.6 1 1 1 1.5 1 2.3 1 -0.3 1 -1.2 1 -0.4 1 0.1 1 -0.3 1 0.2 1 -0.5 1 0.2 1 0.9 1 1.3 1 -0.6 1 -0.3 1 -0.1 1 -0.2 1 -1.2 1 -6.5 1 -6.1 1 -3.7 1 2.3 1 5 1 6.5 1 3.1 1 2 1 -0.3 1 -1.8 1 -0.5 1 0.7 1 1 1 -0.3 1 -1.4 1 -1.2 1 0.2 1 1.3 1 -1.1 1 -1.1 1 0.7 1 1.3 1 -0.7 1 -3.8 1 -3.7 1 -3.5 1 -2.7 1 2.1 1 4.7 1 4.2 1 2.4 1 1.8 1 -0.1 1 -0.7 1 1.1 1 0.8 1 0 1 0.1 1 -0.7 1 0.9 1 0.6 1 0.2 1 -1.1 1 0.3 1 0.4 1 -1.5 1 -0.5 1 -1.6 1 -0.7 1 -0.1 1 -0 1 0.4 1 -1.6 1 -5 1 -5.7 1 -2.7 1 2.1 1 5.6 1 5.3 1 3.5 1 1.3 1 0.2 1 1.3 1 -1.3 1 -2.4 1 -2.2 1 -1.8 1 0.3 1 0.5 1 1.6 1 -3.7 1 -6.8 1 -3.7 1 2.6 1 5.1 1 4 1 -1.9 1 -4.6 1 -2.5 1 0 1 4.4 1 5.1 1 3.8 1 1.4 1 1.6 1 1.1 1 -1.5 1 -2.3 1 -1.9 1 1.7 1 2.4 1 1.7 1 -0.4 1 -0 1 -2.6 1 -1.7 1 -2.8 1 -4.4 1 -3.3 1 -0.5 1 2.9 1 3.6 1 4.8 1 4 1 1.2 1 0 1 -1.4 1 0.2 1 0.4 1 0.6 1 -0.7 1 -0.6 1 -2.1 1 -3 1 -4.5 1 -3.9 1 -0.8 1 2.1 1 6 1 3.9 1 -2.2 1 -3.5 1 -5 1 -3.4 1 1.9 1 5.1 1 4.3 1 1.5 1 0.9 1 0.6 1 0.8 1 0.3 1 -0 1 0.2 1 -0.3 1 0.4 1 0.8 1 -0.6 1 -0.7 1 -1.4 1 -0.8 1 -0.3 1 0.4 1 0.3 1 -1.2 1 -3.7 1 -9.6 1 -7.7 1 0.2 1 6 1 6.8 1 2.7 1 0.2 1 4 1 3.7 1 3.6 1 -0.9 1 -0.8 1 -0.7 1 -1.1 1 0.7 1 0.6 1 -0.5 1 0.2 1 -2.7 1 -0.3 1 1.2 1 -0.1 1 -0.8 1 -3.3 1 -4.8 1 -4.1 1 0.1 1 4.1 1 5.2 1 3.8 1 2 1 0.2 1 -0.4 1 1.6 1 1.3 1 -1 1 -0.3 1 -0.2 1 -1.5 1 -0.5 1 0.4 1 0.9 1 -1.4 1 -0.2 1 3.1 1 0.7 1 -1.7 1 -3.3 1 -3 1 -5.6 1 -5.9 1 -1.6 1 3.8 1 5.2 1 4.5 1 2.5 1 1.2 1 0.2 1 -1.7 1 0.2 1 1.2 1 0.7 1 -0.5 1 0.8 1 2 1 0.7 1 -0.4 1 -0.9 1 -0.4 1 -1.3 1 -1.4 1 -3.9 1 -5.6 1 -4.2 1 0.5 1 4.1 1 4.2 1 4.6 1 1.7 1 0.5 1 0.3 1 0 1 -2 1 -0.6 1 0.5 1 0.4 1 -1.5 1 0.7 1 1 1 -1.2 1 -1 1 0.8 1 -0.3 1 0 1 -0.1 1 -0.3 1 -0.8 1 -4.2 1 -5.2 1 -2.7 1 2.5 1 4.9 1 3.4 1 0.1 1 -0.7 1 2.2 1 1.4 1 0.5 1 0.6 1 -0.4 1 0.4 1 -0.1 1 0.7 1 -0.8 1 0.4 1 1.2 1 -1 1 0.2 1 1.8 1 -0.2 1 -6.2 1 -7.5 1 -4.3 1 -2.1 1 1.2 1 3.2 1 1.4 1 3.1 1 4.1 1 1.9 1 1.8 1 -0.7 1 1.8 1 1 1 1.4 1 0.6 1 -0.5 1 -0.5 1 -0.5 1 -0.7 1 -0.8 1 -0.5 1 0.1 1 -0 1 -2.9 1 -3.9 1 -4.2 1 -2.2 1 -1.5 1 1.7 1 5.4 1 3.3 1 3.1 1 0.6 1 -0.1 1 1 1 -1.9 1 0.8 1 0.6 1 0.4 1 -1.2 1 -0.4 1 -0.5 1 1.6 1 0.7 1 -0.2 1 -1 1 -2 1 -2.1 1 -4.2 1 -5.4 1 -3.6 1 2.9 1 5.4 1 5.3 1 3.2 1 1.6 1 0.8 1 0.5 1 -0.8 1 -0.4 1 -0.5 1 -0.3 1 -0.2 1 2.2 1 2.7 1 -1.2 1 -1.2 1 -0.8 1 0.6 1 -0.9 1 -1 1 -3.4 1 -4.5 1 -5 1 -2.9 1 2.4 1 3.6 1 5.5 1 2.8 1 -0.2 1 0.6 1 0.3 1 1.9 1 -0.6 1 0.7 1 -0.1 1 -0.1 1 1.1 1 0.8 1 -2 1 -0.5 1 1.5 1 -0.2 1 -0.1 1 -2.8 1 -5.6 1 -5.4 1 -2.7 1 3.9 1 4.8 1 1.9 1 3.6 1 1.5 1 1.3 1 0.2 1 -0 1 0 1 0 1 0.2 1 -1.1 1 -0.1 1 0.3 1 -0.3 1 0 1 -0.7 1 -0.6 1 -1.2 1 0.2 1 -0.5 1 -3.4 1 -6 1 -5.6 1 1.6 1 5.7 1 3.7 1 1.9 1 2.7 1 2.1 1 0.2 1 1.2 1 0.8 1 -0.2 1 -0.3 1 0.1 1 -0.4 1 -0.2 1 0.2 1 -1.1 1 -0.8 1 -0.8 1 0.5 1 1.3 1 -0.7 1 -32.3 1 0.7 1 0.7 1 0.4 1 -0.1 1 -2 1 -0.9 1 1.5 1 1.2 1 -1 1 0.1 1 1.8 1 2.2 1 2.4V239.0Z"/>
<path fill="#2cf02c" d="M115 239.0V138.1l1 1.1 1 0.7 1 0.8 1 -1.9 1 -0.7 1 -1 1 -2.2 1 -4.7 1 -3.1 1 2.5 1 3.3 1 4.8 1 3.4 1 0.8 1 -0.8 1 0.5 1 3.2 1 2 1 -0.8 1 -0.3 1 -1 1 -4.4 1 -4.2 1 -1.8 1 6.8 1 5.7 1 1.5 1 0.4 1 0.6 1 1.5 1 -0.1 1 -3.3 1 -2 1 1.3 1 3.5 1 3 1 1.7 1 0.3 1 1.8 1 2.4 1 -1 1 -1.1 1 -0.1 1 0 1 0.2 1 -0.3 1 -0.8 1 0.6 1 -0.2 1 0.7 1 -0.1 1 0.2 1 -0.4 1 -0.8 1 -1.2 1 -3.9 1 -3 1 -2.6 1 -0.5 1 2.8 1 5.5 1 2.9 1 1.9 1 -0.4 1 -1.7 1 0.2 1 2.5 1 1 1 -2.5 1 -1.6 1 -0.4 1 0.3 1 0.2 1 -1.9 1 -0.9 1 2.2 1 2.7 1 -0.3 1 -3.9 1 -3.3 1 -1.8 1 -1.8 1 1.6 1 3 1 1.7 1 0.7 1 1.5 1 0.6 1 0.6 1 0.5 1 0.2 1 0.2 1 0 1 -0.7 1 1.3 1 0 1 -0.7 1 -0.8 1 0.9 1 1.4 1 -0.8 1 -1.3 1 -1.7 1 0.5 1 1.1 1 0.1 1 -0 1 -0.3 1 -3.4 1 -5.6 1 -3.5 1 0.9 1 4.6 1 3.9 1 3.1 1 1.4 1 -0.8 1 0.6 1 -1.1 1 -2.4 1 -0.7 1 -0.7 1 -0.4 1 -0.1 1 2.4 1 -2.3 1 -5.3 1 -2.4 1 2 1 3.9 1 2.3 1 -2.5 1 -3.5 1 -0.7 1 2.7 1 3.2 1 2.3 1 1.9 1 0.7 1 1.4 1 0.8 1 -1.7 1 -2.4 1 -2 1 2.3 1 3.5 1 1.9 1 0.2 1 0.2 1 -3.7 1 -2 1 -2.1 1 -3.1 1 -2.5 1 1 1 3.3 1 0.8 1 2.7 1 3.1 1 1.5 1 -0.3 1 -2 1 0.2 1 1.5 1 1.6 1 -1.4 1 -1 1 -2.9 1 -2.6 1 -3.4 1 -3 1 0.6 1 1.8 1 5.2 1 2.5 1 -2.4 1 -2.4 1 -3 1 -1.9 1 1.7 1 3.9 1 2.2 1 -0.6 1 0.6 1 0.4 1 1.8 1 0.8 1 -0.7 1 -0 1 -0.3 1 -0.1 1 1.1 1 0.5 1 -0.5 1 -1 1 -0.3 1 -0.3 1 0 1 -0.6 1 -0.7 1 -2 1 -5.5 1 -4.3 1 0.3 1 3.6 1 4.2 1 1.8 1 -0.7 1 3.1 1 2.1 1 3.5 1 -1.5 1 -1.7 1 0.4 1 -0.5 1 -0.5 1 0.8 1 -0.3 1 1 1 -3.5 1 -0.6 1 1 1 1.2 1 -0.8 1 -3.3 1 -2.5 1 -1.5 1 0.3 1 1.9 1 3.6 1 3 1 0.9 1 0.3 1 -0.7 1 1 1 0.8 1 -1.3 1 0 1 0.9 1 -2.2 1 -0.3 1 1.6 1 0.9 1 -3 1 -0.6 1 3.5 1 0.8 1 -0.5 1 -2.4 1 -2.5 1 -4.5 1 -4.6 1 -1.5 1 2.9 1 5.7 1 4.3 1 1 1 -0.4 1 0.2 1 -2.4 1 -0.1 1 1.4 1 0.2 1 -0.5 1 1.4 1 2.5 1 0.5 1 -0.6 1 -1.7 1 -0 1 -1.2 1 -1.3 1 -2 1 -2.7 1 -1.8 1 -0.2 1 2.8 1 1.6 1 3.5 1 0.8 1 0.1 1 0.2 1 -0.4 1 -2.5 1 -0.1 1 0.3 1 -0.4 1 -1.7 1 1.7 1 1.9 1 -1.5 1 -1.4 1 1.9 1 -0.3 1 -0.5 1 0.3 1 0 1 -0.3 1 -1.8 1 -4.8 1 -2.2 1 2.1 1 2.4 1 1.8 1 0.8 1 0.3 1 1.7 1 0.5 1 0.5 1 1.3 1 -1.4 1 0.3 1 0.8 1 -0.2 1 -1.6 1 0.7 1 0.7 1 -1 1 0.8 1 1.4 1 -0.2 1 -3.6 1 -3.4 1 -2.2 1 -1.3 1 -0.6 1 0.4 1 -1.5 1 1.8 1 4.2 1 1.1 1 1.5 1 -0.3 1 3.3 1 0.8 1 0.6 1 0.4 1 1.4 1 0.3 1 -1.6 1 -2.3 1 -0.7 1 -0.1 1 0 1 -0.4 1 -1.6 1 -2.1 1 -1.8 1 -0.4 1 -4 1 -0 1 5.5 1 3 1 3.4 1 -1.1 1 -1.6 1 1 1 -2.8 1 1.6 1 0.7 1 1 1 -0.5 1 0.3 1 -0.1 1 0.7 1 0.1 1 -0.5 1 -0.9 1 -1.6 1 -1 1 -2.3 1 -3.7 1 -2.4 1 3 1 4.3 1 3.2 1 0.4 1 0.6 1 0.7 1 1.6 1 -1 1 -0.4 1 0.4 1 0.2 1 0.6 1 2 1 2.7 1 -1.9 1 -2.3 1 -2.5 1 0.6 1 -0.1 1 0.3 1 -2.1 1 -4.2 1 -3.2 1 -2.5 1 1 1 3.2 1 4.2 1 0.8 1 -0.1 1 1.6 1 0.4 1 1.9 1 -1.4 1 0.8 1 -0 1 -0.6 1 1.1 1 0.7 1 -1.9 1 -0.2 1 0.3 1 -0.8 1 -0.5 1 -1 1 -3.4 1 -3.1 1 0.3 1 1.7 1 2.4 1 0.9 1 2.1 1 0.3 1 1.5 1 -0.1 1 -0.1 1 0 1 0.1 1 1.2 1 -1 1 -0.5 1 -0.2 1 -0.6 1 0.5 1 -0.7 1 -0 1 -1 1 0.4 1 0.3 1 -2.4 1 -3.3 1 -2.7 1 -0.2 1 3.2 1 2.6 1 0.5 1 1.2 1 1.5 1 0.2 1 1.7 1 0.9 1 0 1 -0.6 1 -0.1 1 0.1 1 0.4 1 -0.1 1 -1.9 1 -1.5 1 0.1 1 1.5 1 0.8 1 -1.2 1 -27.3 1 0.6 1 0.6 1 0.3 1 -0.3 1 -2.3 1 -1.1 1 1.8 1 0.8 1 -1.3 1 1.2 1 2 1 2.2 1 1.9V239.0Z"/>
<path fill="#44e4cc" d="M115 239.0V157.1l1 1.6 1 -1.3 1 -2.2 1 -2.9 1 0.6 1 -0.6 1 -3.8 1 -4.3 1 -1.4 1 3.1 1 3.4 1 3.8 1 2 1 -0.1 1 -0.9 1 0.1 1 2.8 1 2.6 1 -1.6 1 -0.5 1 -1.5 1 -4.9 1 -4 1 -2.9 1 7.8 1 6.5 1 2.1 1 1.4 1 -0 1 1.1 1 -0.3 1 -3.6 1 -3.2 1 1.8 1 4.2 1 3.7 1 2.3 1 0.2 1 1.3 1 1.4 1 -2.1 1 -1.5 1 1 1 0.9 1 0.3 1 -0.8 1 -0.5 1 0.8 1 -0.4 1 0.2 1 0.1 1 0.1 1 -0.7 1 -1.3 1 -1 1 -3.6 1 -3.8 1 -2.7 1 -0.5 1 3.1 1 5.9 1 3.4 1 1.8 1 0.2 1 -1.8 1 -0.3 1 3.6 1 1.8 1 -3.9 1 -2.6 1 -0.2 1 1.3 1 0.4 1 -2.5 1 -0.6 1 2.5 1 2.8 1 -0.5 1 -3.9 1 -3.7 1 -3.1 1 -2.1 1 2.4 1 3.8 1 2.3 1 1.2 1 1 1 0.1 1 0.9 1 -0.2 1 -0.2 1 0.7 1 0.1 1 -0.7 1 1.2 1 -0.9 1 -1.5 1 0.6 1 2 1 1.9 1 -0.1 1 -1.4 1 -1.7 1 0.4 1 0.7 1 0.1 1 -0.3 1 -0 1 -3.2 1 -5.9 1 -5 1 -0.1 1 5.6 1 4.1 1 3.8 1 1.4 1 -2 1 -0.5 1 0.3 1 -1.6 1 -0.9 1 -1.1 1 -1.1 1 -0.2 1 2.6 1 -2.2 1 -5.8 1 -2.3 1 2.5 1 4.7 1 2.2 1 -3.6 1 -4.2 1 -1.2 1 2.7 1 3.9 1 3.2 1 1.7 1 1.2 1 1.3 1 0.9 1 -1.2 1 -2.8 1 -2.6 1 2.9 1 3.3 1 1.6 1 1.8 1 0.4 1 -4.4 1 -2.5 1 -1.9 1 -3.8 1 -3.3 1 1.4 1 3.1 1 -0.1 1 3.3 1 3.5 1 2.1 1 0.6 1 -1.9 1 -0.7 1 2 1 0.9 1 -2 1 -0.6 1 -3.2 1 -2.7 1 -3.8 1 -3.8 1 0.2 1 1.5 1 5.8 1 3.5 1 -1.9 1 -2.7 1 -3.8 1 -2.3 1 2.1 1 5 1 3.1 1 -0.2 1 1.2 1 0.2 1 1.4 1 0.3 1 -1 1 0.2 1 0.3 1 -0.3 1 1.3 1 0.7 1 0.4 1 -1.4 1 -1.1 1 -0.8 1 -0.1 1 -1 1 -0.6 1 -1.4 1 -4.9 1 -3.6 1 -0.3 1 3.6 1 4.6 1 2.3 1 -1 1 3.2 1 1.4 1 2.5 1 -2.4 1 -2.2 1 1.5 1 0.3 1 -0.3 1 0.6 1 -0.9 1 1.4 1 -4.2 1 -1 1 0.8 1 2 1 -0.9 1 -4.3 1 -2.6 1 -1.9 1 0.9 1 2.1 1 4.1 1 3.1 1 0.8 1 0.4 1 -0.8 1 1 1 0.7 1 -1.6 1 0.1 1 1.3 1 -2.1 1 0.3 1 2.1 1 1.6 1 -3.9 1 -1.2 1 3.6 1 0.8 1 -0.3 1 -2.8 1 -3.2 1 -5 1 -4.8 1 -2 1 3 1 6.4 1 5 1 1.5 1 0.1 1 0.3 1 -2.9 1 0.5 1 1 1 -0 1 -0.7 1 0.8 1 1.9 1 0.7 1 -0.6 1 -1.9 1 0.3 1 -1 1 -1.6 1 -2.1 1 -2.2 1 -0.6 1 0.5 1 2.9 1 0.5 1 3.5 1 1.4 1 -0.3 1 -0.4 1 -0.7 1 -2 1 0.9 1 0 1 -0.9 1 -2.4 1 1.3 1 1.9 1 -1.8 1 -1.1 1 2.8 1 -0.6 1 -0.9 1 0.7 1 0.4 1 -0.9 1 -2.6 1 -5.5 1 -1.9 1 3 1 2.6 1 3.1 1 1.8 1 0.6 1 2.2 1 -0.4 1 -0.8 1 1.6 1 -1.2 1 0.6 1 1.2 1 -0.4 1 -2.1 1 0.1 1 -0.3 1 -0.9 1 1.7 1 1.4 1 -0.7 1 -2.8 1 -2.6 1 -2.4 1 -1.5 1 -0.6 1 -0.1 1 -2.3 1 1.5 1 4.5 1 0.2 1 1.9 1 0.4 1 4.3 1 1.2 1 0.9 1 0.1 1 0.7 1 -0.1 1 -1 1 -2.6 1 -0.6 1 -0.2 1 0.7 1 -0.4 1 -1.6 1 -1.8 1 -3 1 -1.4 1 -4.8 1 0.6 1 7.5 1 3.1 1 3.4 1 -2 1 -2.3 1 1 1 -3.3 1 3 1 0.6 1 1.1 1 -0.4 1 0.6 1 0.1 1 0.3 1 0.3 1 -0.3 1 -1.1 1 -2.6 1 -1 1 -2.1 1 -3.9 1 -2.1 1 4.1 1 4.7 1 3 1 0.4 1 0.3 1 -0.2 1 1.4 1 -0.7 1 -0.5 1 0.4 1 0.5 1 0.5 1 1.9 1 2.6 1 -1.8 1 -2.3 1 -2.2 1 0.7 1 -0.9 1 -0.4 1 -1.9 1 -4.9 1 -2.9 1 -2.4 1 1 1 4.2 1 4.5 1 -0.2 1 -0.3 1 2.2 1 0.3 1 2.6 1 -1.3 1 0.5 1 0.3 1 0.7 1 0.4 1 -0.5 1 -2.7 1 0.2 1 0.8 1 -1.2 1 -1.2 1 -0.9 1 -3.1 1 -3.6 1 0.6 1 1.8 1 4 1 1.1 1 1.4 1 -0 1 1.5 1 0 1 -0.3 1 0.3 1 -0.3 1 1.3 1 -1.2 1 -0.7 1 -0.3 1 0.3 1 1.2 1 -1.5 1 -1 1 -0.9 1 0 1 -0.2 1 -2.4 1 -2.5 1 -2 1 -0.5 1 3.9 1 3.7 1 0.2 1 1 1 1.1 1 -0.9 1 0.7 1 1.3 1 0.4 1 -0.3 1 -0.4 1 0.1 1 0.9 1 0.4 1 -2.7 1 -1.8 1 0.8 1 1.7 1 0.8 1 -1.2 1 -23.7 1 0.5 1 0.3 1 -0.6 1 -1.1 1 -2 1 0 1 1.9 1 0.2 1 -1.1 1 1.4 1 2.2 1 2.4 1 1.6V239.0Z"/>
<path fill="#dedc4c" d="M115 239.0V157.1l1 1.6 1 -1.2 1 -2.2 1 -2.6 1 1.1 1 0.5 1 -2.5 1 -3.1 1 -0.9 1 2.6 1 2.2 1 2.5 1 1 1 -0.8 1 -1.1 1 0.1 1 2.7 1 2.8 1 -1.4 1 0.1 1 -0.5 1 -3.5 1 -2.9 1 -2.4 1 7.3 1 5.3 1 0.7 1 0.4 1 -0.6 1 1.8 1 0.7 1 -2.3 1 -2 1 2.3 1 3.7 1 2.5 1 1 1 -0.9 1 0.8 1 1.2 1 -2.2 1 -1.6 1 1 1 0.9 1 0.3 1 -0.8 1 -0.5 1 0.8 1 -0.4 1 0.2 1 0.1 1 0.2 1 -0.5 1 -0.6 1 0 1 -2.3 1 -2.5 1 -2.3 1 -1 1 1.9 1 4.6 1 2.4 1 1.2 1 -0.1 1 -1.9 1 -0.3 1 3.6 1 1.8 1 -3.9 1 -2.6 1 -0.2 1 1.3 1 0.4 1 -2.5 1 -0.5 1 2.6 1 3 1 0 1 -2.8 1 -2.4 1 -1.9 1 -1.6 1 1.9 1 2.6 1 1 1 0.2 1 0.3 1 -0.1 1 0.9 1 -0.3 1 -0.2 1 0.7 1 0.1 1 -0.7 1 1.2 1 -0.9 1 -1.5 1 0.6 1 2 1 1.9 1 -0.1 1 -1.4 1 -1.7 1 0.4 1 0.8 1 0.4 1 0.2 1 1 1 -1.8 1 -4.7 1 -4.5 1 -0.6 1 4.4 1 2.7 1 2.9 1 0.8 1 -2.3 1 -0.6 1 0.3 1 -1.6 1 -0.9 1 -1 1 -0.8 1 0.3 1 3.6 1 -0.8 1 -4.6 1 -1.8 1 2 1 3.5 1 0.9 1 -3.6 1 -2.9 1 -0 1 3.2 1 3.5 1 1.9 1 0.4 1 0.2 1 0.6 1 0.7 1 -1.2 1 -2.9 1 -2.6 1 2.9 1 3.3 1 1.6 1 1.8 1 0.5 1 -4.1 1 -1.9 1 -0.9 1 -2.5 1 -2.1 1 1.9 1 2.6 1 -1.3 1 1.9 1 2.6 1 1.5 1 0.3 1 -2 1 -0.7 1 2 1 0.9 1 -1.8 1 -0.4 1 -2.6 1 -1.8 1 -2.4 1 -2.6 1 0.7 1 1 1 4.6 1 2.2 1 -1.9 1 -1.4 1 -2.6 1 -1.8 1 1.6 1 3.8 1 1.7 1 -1.1 1 0.6 1 -0 1 1.2 1 0.3 1 -1 1 0.2 1 0.3 1 -0.3 1 1.3 1 0.7 1 0.4 1 -1.4 1 -1.1 1 -0.7 1 0.1 1 -0.7 1 0.2 1 -0.2 1 -3.6 1 -2.7 1 -0.3 1 2.8 1 3.2 1 1.1 1 -1.7 1 2.7 1 1.3 1 2.5 1 -2.5 1 -2.2 1 1.5 1 0.3 1 -0.3 1 0.6 1 -0.9 1 1.4 1 -4.2 1 -1 1 1 1 2.5 1 -0.1 1 -3.2 1 -1.2 1 -1 1 0.8 1 1.3 1 2.7 1 1.9 1 -0 1 -0 1 -0.9 1 0.9 1 0.7 1 -1.6 1 0.1 1 1.3 1 -2.1 1 0.3 1 2.1 1 1.6 1 -3.9 1 -1.2 1 3.6 1 0.9 1 0 1 -2.2 1 -2.2 1 -3.7 1 -3.6 1 -1.5 1 2.5 1 5.2 1 3.7 1 0.4 1 -0.4 1 0.1 1 -3 1 0.4 1 1 1 -0 1 -0.7 1 0.8 1 1.9 1 0.7 1 -0.6 1 -1.9 1 0.5 1 -0.6 1 -0.8 1 -0.9 1 -0.8 1 0.3 1 0.4 1 2.1 1 -0.9 1 2.3 1 0.6 1 -0.6 1 -0.6 1 -0.8 1 -2 1 0.9 1 0 1 -0.9 1 -2.4 1 1.3 1 1.9 1 -1.8 1 -1.1 1 2.8 1 -0.6 1 -0.8 1 0.9 1 1.1 1 0.1 1 -1.3 1 -4.3 1 -1.4 1 2.5 1 1.4 1 1.8 1 0.8 1 0 1 1.9 1 -0.5 1 -0.8 1 1.6 1 -1.2 1 0.6 1 1.2 1 -0.4 1 -2.1 1 0.1 1 -0.3 1 -0.9 1 1.8 1 1.7 1 -0.1 1 -1.8 1 -1.3 1 -1.2 1 -1 1 -1.1 1 -1.3 1 -3.7 1 0.6 1 3.9 1 -0.1 1 1.8 1 0.4 1 4.3 1 1.2 1 0.9 1 0.1 1 0.7 1 -0.1 1 -1 1 -2.6 1 -0.6 1 -0.1 1 0.8 1 -0 1 -0.8 1 -0.6 1 -1.6 1 -0.5 1 -4.8 1 -0.3 1 6.2 1 1.8 1 2.6 1 -2.4 1 -2.4 1 0.9 1 -3.3 1 3 1 0.6 1 1.1 1 -0.4 1 0.6 1 0.1 1 0.3 1 0.4 1 -0.3 1 -0.8 1 -2 1 0 1 -0.8 1 -2.7 1 -1.6 1 3.6 1 3.5 1 1.7 1 -0.6 1 -0.3 1 -0.5 1 1.3 1 -0.7 1 -0.5 1 0.4 1 0.5 1 0.5 1 1.9 1 2.6 1 -1.8 1 -2.3 1 -2.2 1 0.8 1 -0.6 1 0.2 1 -0.9 1 -3.6 1 -1.7 1 -1.9 1 0.5 1 3 1 3.2 1 -1.2 1 -0.9 1 1.9 1 0.3 1 2.5 1 -1.3 1 0.5 1 0.3 1 0.7 1 0.4 1 -0.5 1 -2.6 1 0.1 1 0.9 1 -0.9 1 -0.7 1 0.1 1 -1.7 1 -2.3 1 1 1 1.3 1 2.8 1 -0.3 1 0.4 1 -0.6 1 1.3 1 -0.1 1 -0.3 1 0.3 1 -0.3 1 1.3 1 -1.2 1 -0.7 1 -0.3 1 0.3 1 1.2 1 -1.5 1 -0.8 1 -0.7 1 0.6 1 0.8 1 -1.1 1 -1.3 1 -1.5 1 -1 1 2.7 1 2.4 1 -0.8 1 0.4 1 0.8 1 -1 1 0.7 1 1.3 1 0.4 1 -0.3 1 -0.4 1 0.1 1 0.9 1 0.4 1 -2.7 1 -1.8 1 0.8 1 1.7 1 0.8 1 -1.2 1 -23.2 1 -0 1 0.3 1 -0.6 1 -1.1 1 -2 1 0 1 1.9 1 0.2 1 -1.1 1 1.4 1 2.2 1 2.4 1 1.6V239.0Z"/>
<path fill="#1c1c1c" d="M115 239.0V158.9l1 1.4 1 -0.9 1 -1.5 1 -2.8 1 0.7 1 0.6 1 -2 1 -2.7 1 -1 1 2.7 1 2.7 1 2.8 1 0.4 1 -1.4 1 -0.9 1 0.7 1 2.5 1 2.1 1 -1.2 1 0.4 1 -0.3 1 -3 1 -2.6 1 -2.5 1 6.6 1 5.6 1 0.8 1 0.4 1 -0.4 1 1.4 1 0.9 1 -1.4 1 -1.8 1 2.4 1 3.6 1 2.1 1 1.3 1 -0.9 1 0.8 1 1.3 1 -2.4 1 -1.8 1 1 1 1.1 1 0.1 1 -1.2 1 -0.1 1 0.9 1 0.2 1 0.2 1 0.1 1 -0.1 1 -0.3 1 -0.8 1 -0.2 1 -2.7 1 -3.4 1 -2.4 1 -0.7 1 2.4 1 4.9 1 2.7 1 1.3 1 -0.1 1 -2.3 1 -0.3 1 3.2 1 1.5 1 -4 1 -2.3 1 -0.1 1 1.2 1 0.4 1 -2.1 1 0.3 1 2.1 1 2.3 1 0.2 1 -2.8 1 -2.5 1 -1.6 1 -1.7 1 2 1 2.5 1 1.2 1 0.9 1 -0.4 1 -0.8 1 0.9 1 0 1 0.4 1 0.5 1 -0.1 1 -0.3 1 0.9 1 -1.2 1 -1 1 0.5 1 1.5 1 1.7 1 0.1 1 -1.2 1 -1.5 1 0.3 1 0.3 1 0.3 1 0.8 1 1.3 1 -2 1 -4.8 1 -4.6 1 -0.5 1 4.3 1 2.8 1 2.5 1 1.1 1 -1.6 1 -0.8 1 -0.2 1 -1.3 1 -0.8 1 -1.1 1 -1.3 1 0.3 1 3.6 1 -1 1 -4.3 1 -1.2 1 1.7 1 3 1 0.8 1 -2.9 1 -2.7 1 -0.6 1 3 1 3.7 1 1.9 1 0.4 1 0.9 1 0.4 1 -0 1 -1.2 1 -2.3 1 -2.3 1 2.8 1 3.1 1 1.6 1 2.2 1 0.1 1 -4.3 1 -1.9 1 -0.9 1 -2.2 1 -2.2 1 1.1 1 2.9 1 -0.6 1 2 1 2.1 1 1.6 1 0.2 1 -2.1 1 -0.7 1 2.4 1 1.3 1 -1.9 1 -0.7 1 -2.7 1 -1.2 1 -2.1 1 -3.4 1 0.5 1 1.1 1 3.8 1 1.8 1 -0.9 1 -0.8 1 -2.5 1 -1.9 1 1.3 1 3.5 1 1.7 1 -1.7 1 0.3 1 0.1 1 1.1 1 0.4 1 -0.9 1 0.5 1 0.4 1 -0.6 1 1.4 1 0.9 1 0.6 1 -1.2 1 -1 1 -0.8 1 0.1 1 -0.7 1 0 1 -0.4 1 -3.7 1 -2.4 1 -0.1 1 2.6 1 3.4 1 1 1 -1.4 1 3 1 0.8 1 2.2 1 -2.5 1 -2.4 1 1.5 1 0.4 1 -0.6 1 0.9 1 -0.8 1 1.6 1 -4.1 1 -0.8 1 0.3 1 2.3 1 0.9 1 -3.3 1 -1.7 1 -1.1 1 0.8 1 1.3 1 2.9 1 2.3 1 -0.3 1 0.1 1 -0.7 1 0.7 1 0.6 1 -2 1 -0.2 1 1.5 1 -1.5 1 0.4 1 1.7 1 1.7 1 -4.1 1 -1.1 1 3.5 1 0.5 1 0.3 1 -2.3 1 -2.4 1 -3.2 1 -3.4 1 -1.6 1 2.2 1 4.9 1 3.6 1 0.6 1 -0.5 1 0.3 1 -2.6 1 0.7 1 0.9 1 -0.2 1 -0.8 1 1.2 1 1.9 1 0.2 1 -0.9 1 -2 1 0.6 1 -0.1 1 -0.2 1 -1.1 1 -1.5 1 0.4 1 0.3 1 1.6 1 -0.5 1 2.4 1 0.8 1 -0.6 1 -0.6 1 -0.4 1 -2.3 1 0.3 1 0.1 1 -0.2 1 -2.7 1 1.3 1 2.1 1 -1.9 1 -2 1 2.6 1 -0.2 1 -0.8 1 1.5 1 1.6 1 -0.3 1 -1.4 1 -4.1 1 -0.9 1 2.1 1 1.2 1 1.5 1 0.9 1 0.3 1 1.6 1 -0.8 1 -0.9 1 1.9 1 -1.1 1 0.5 1 1 1 -0 1 -1.6 1 -0.1 1 -0.3 1 -1.2 1 1.7 1 1.2 1 -0.5 1 -1.2 1 -0.6 1 -0.9 1 -1.2 1 -1.7 1 -1.6 1 -3.7 1 1 1 4.2 1 -0.3 1 1.5 1 0.7 1 4.3 1 1.2 1 0.8 1 -0 1 0.4 1 -0.5 1 -1.2 1 -1.9 1 -0.4 1 -0.1 1 1.5 1 0.3 1 -0.9 1 -1.2 1 -1.8 1 -0.3 1 -4.4 1 -0.4 1 5.5 1 1.5 1 2.4 1 -2 1 -1.7 1 1.2 1 -2.9 1 2.4 1 -0.1 1 1 1 0.1 1 0.8 1 -0.7 1 0.2 1 0.7 1 -0.1 1 -0.7 1 -2.2 1 0.1 1 -0.7 1 -2.5 1 -1.7 1 2.9 1 3 1 1.9 1 -0.2 1 0.1 1 -0.3 1 1.3 1 -1.1 1 -1 1 0.7 1 0.7 1 0.2 1 2 1 2.8 1 -1.7 1 -2.7 1 -2.5 1 1.2 1 -0.3 1 0.4 1 -1.2 1 -3.6 1 -1.8 1 -1.6 1 0.7 1 2.3 1 3.4 1 -1.2 1 -0.9 1 1.7 1 0.5 1 2.6 1 -0.9 1 0.6 1 -0.5 1 0.6 1 1.4 1 -0.1 1 -3.5 1 -0.7 1 1.1 1 0.1 1 -0.3 1 -0.5 1 -2.1 1 -2.1 1 0.6 1 1.2 1 2.9 1 -0 1 0.6 1 -0.8 1 1.6 1 0.4 1 -0.1 1 0.1 1 -1.1 1 0.9 1 -0.8 1 -0.4 1 -0.3 1 0.1 1 1.2 1 -1.6 1 -0.3 1 -0.3 1 0.2 1 0.7 1 -1 1 -1.2 1 -1.6 1 -1.2 1 2.8 1 2.5 1 -1.1 1 0.5 1 0.6 1 -1 1 0.3 1 0.9 1 0.5 1 0.2 1 0 1 -0.2 1 0.7 1 0.3 1 -2.4 1 -1.6 1 0.8 1 1.3 1 0.7 1 -0.8 1 -24.9 1 -0.1 1 0.4 1 -0.7 1 -0.9 1 -2.2 1 -0.2 1 1.7 1 -0.1 1 -1 1 1.3 1 2.3 1 2.6 1 2V239.0Z"/>
<path fill="#ece4f7" d="M115 239.0V161.0l1 1.1 1 -1.2 1 -1.4 1 -2.5 1 0.3 1 0.6 1 -1.4 1 -2.3 1 -1.3 1 2.2 1 2.7 1 2.7 1 0.4 1 -1.7 1 -0.6 1 1.3 1 2 1 1.6 1 -0.5 1 0.6 1 -0.5 1 -3.1 1 -2.4 1 -2.2 1 6.2 1 5.1 1 1.2 1 1.2 1 -0.1 1 1 1 0.5 1 -1.1 1 -1.6 1 2.3 1 3.8 1 2.3 1 1.2 1 -1.1 1 0.5 1 0.8 1 -2.1 1 -1.2 1 1.3 1 0.9 1 0 1 -1.6 1 -0.4 1 1.3 1 0.1 1 -0.2 1 -0 1 0.2 1 -0.2 1 -0.8 1 -0.4 1 -2.4 1 -3.5 1 -2.5 1 -0.8 1 2.9 1 5.3 1 2.6 1 0.3 1 -0.4 1 -1.4 1 -0.3 1 2.8 1 1.9 1 -3.5 1 -2.2 1 -0.8 1 0.5 1 0.5 1 -1 1 0.5 1 1.8 1 2 1 0 1 -2.9 1 -2.6 1 -1.6 1 -1.8 1 2.3 1 3 1 1.1 1 0.8 1 0.2 1 -0.8 1 0.2 1 -0.3 1 1.1 1 0.7 1 -0.4 1 -0.2 1 0.4 1 -1.3 1 -0.9 1 0.7 1 1.7 1 1.9 1 -0.2 1 -1.2 1 -1.5 1 0.2 1 0.1 1 0.6 1 1.3 1 1.1 1 -2.7 1 -5 1 -4.6 1 -0.6 1 4.4 1 2.8 1 3.2 1 1.4 1 -1.9 1 -1 1 -0.3 1 -1.2 1 -0.2 1 -1 1 -2.4 1 0.5 1 3.9 1 -1 1 -4.6 1 -1.5 1 2 1 3.1 1 0.9 1 -2.8 1 -2.5 1 -0.2 1 2.2 1 3.4 1 1.9 1 0.9 1 1.4 1 0 1 -0.6 1 -1.2 1 -1.9 1 -2.2 1 2.8 1 2.9 1 1.5 1 2.2 1 0.1 1 -4 1 -2 1 -0.7 1 -1.6 1 -1.8 1 0.8 1 2.5 1 -0.9 1 1.9 1 2.4 1 1.6 1 -0 1 -1.6 1 -0.3 1 1.4 1 0.6 1 -1.6 1 -0.1 1 -2.1 1 -1.2 1 -2.3 1 -3.9 1 0.5 1 1.1 1 3.7 1 1.9 1 -0.9 1 -0.9 1 -3.1 1 -1.8 1 2.1 1 3.6 1 1.9 1 -1 1 0 1 -0.4 1 0.8 1 0.5 1 -0.8 1 0.5 1 0.8 1 -0.6 1 1 1 0.5 1 0.7 1 -0.8 1 -1.1 1 -1.1 1 0.3 1 -0.7 1 -0.2 1 -0.2 1 -3.4 1 -2.6 1 -0.6 1 2.6 1 3.6 1 0.8 1 -1.2 1 2.9 1 0.1 1 1.9 1 -1.9 1 -1.9 1 1.8 1 0.7 1 -0.8 1 0.7 1 -0.8 1 1.7 1 -3.8 1 -1.3 1 -0.1 1 2.6 1 1.3 1 -3.7 1 -1.8 1 -0.6 1 1 1 1 1 2.8 1 2.4 1 -0.2 1 -0.3 1 -0.9 1 0.7 1 0.5 1 -1.7 1 0.1 1 1.5 1 -1 1 0.2 1 1.3 1 1.4 1 -3.9 1 -1 1 3.2 1 0.2 1 0.2 1 -2.2 1 -1.9 1 -3.1 1 -3.1 1 -2.2 1 2.2 1 4.9 1 3.1 1 0.3 1 -0.1 1 0.6 1 -2.6 1 0.7 1 0.7 1 0.5 1 0 1 1.1 1 1.5 1 -0.2 1 -1 1 -1.6 1 0.5 1 -0.3 1 -0.4 1 -1 1 -1.7 1 -0.1 1 0.7 1 2.2 1 -0.4 1 2.5 1 0.9 1 -1 1 -0.8 1 0.2 1 -2 1 -0 1 0.1 1 -0.8 1 -3.3 1 1.2 1 2.6 1 -1.4 1 -2.1 1 2.3 1 0.2 1 -0.5 1 1 1 1.4 1 -0.2 1 -1.5 1 -3.8 1 -0.6 1 1.8 1 0.9 1 1.5 1 0.9 1 1.2 1 1.9 1 -1.8 1 -1.7 1 1.8 1 -1.2 1 0.6 1 1.4 1 0.3 1 -1.5 1 0.3 1 -0.6 1 -1.5 1 1.8 1 0.9 1 -0.4 1 -1.2 1 -0.3 1 -1 1 -1.2 1 -1.4 1 -1.4 1 -3.6 1 0.9 1 3.8 1 0 1 1.9 1 -0 1 3.8 1 1.8 1 1 1 0.1 1 0.4 1 -0.3 1 -1.1 1 -2.2 1 -0.6 1 -0.7 1 1.5 1 0.8 1 -0.5 1 -1.7 1 -1.9 1 0 1 -4.8 1 -0.9 1 5.5 1 2.1 1 2.3 1 -1.6 1 -1.8 1 1 1 -3.1 1 2.1 1 0.1 1 1.2 1 0.3 1 1.1 1 -0.6 1 0.1 1 0.1 1 -0.4 1 -0.5 1 -1.7 1 -0.2 1 -0.6 1 -2.3 1 -1.8 1 2.3 1 3 1 2.4 1 -0.3 1 -0.3 1 -0 1 1.3 1 -1.4 1 -0.5 1 1 1 0.8 1 -0.1 1 1.5 1 2.6 1 -1.3 1 -2.3 1 -2 1 0.9 1 -0.3 1 0 1 -1.4 1 -3.3 1 -1.9 1 -1.8 1 1.3 1 2.6 1 3 1 -1.4 1 -1.1 1 2 1 0.8 1 2.7 1 -1 1 0.1 1 -1.1 1 1.2 1 1.9 1 -0.5 1 -3.9 1 -0.6 1 1.7 1 0.3 1 -0.6 1 -0.9 1 -1.6 1 -1.7 1 0.6 1 1.3 1 2.9 1 -0.4 1 0.1 1 -1 1 1.9 1 1 1 -0.2 1 -0.6 1 -1.3 1 1.4 1 -0.3 1 -0.5 1 -0.3 1 0.2 1 1 1 -1.7 1 -0.1 1 -0.3 1 0.2 1 0.7 1 -1.5 1 -1.5 1 -1.4 1 -0.5 1 2.7 1 2.1 1 -1.3 1 0.3 1 0.4 1 -0.8 1 0.8 1 1 1 0.3 1 0.3 1 0.5 1 -0 1 0.1 1 -0.3 1 -2.6 1 -1.2 1 0.9 1 1.1 1 0.6 1 -0.6 1 -26.3 1 -0.6 1 0.6 1 -0 1 -0.8 1 -2.3 1 -0 1 1.7 1 -0.4 1 -0.5 1 1.7 1 2 1 2.1 1 2V239.0Z"/>
<path fill="#7533d6" d="M115 239.0V163.5l1 1.1 1 -1.4 1 -1.4 1 -2.4 1 0.4 1 0.5 1 -1.5 1 -1.7 1 -1.1 1 2 1 3 1 2.8 1 0 1 -1.8 1 -0.8 1 0.8 1 2.1 1 1.3 1 -0.2 1 0.9 1 -0.1 1 -2.5 1 -2.1 1 -2.3 1 5.8 1 4.5 1 1 1 1 1 -0.3 1 1.4 1 0.5 1 -0.8 1 -1 1 2.7 1 3.7 1 1.6 1 0.4 1 -1.2 1 0.3 1 1 1 -1.4 1 -1.1 1 1 1 1.4 1 0.1 1 -2.3 1 -0.3 1 1.3 1 -0.1 1 -0.7 1 0.4 1 0.5 1 0 1 -0.9 1 -0.8 1 -1.8 1 -2.5 1 -1.9 1 -0.9 1 2.1 1 4.5 1 2.5 1 0.2 1 -0.2 1 -1.6 1 -0.3 1 2.6 1 1.6 1 -3.4 1 -2.1 1 -0.1 1 0.4 1 -0.3 1 -1.3 1 0.9 1 2 1 2.2 1 0.6 1 -3.2 1 -2.6 1 -0.8 1 -1.1 1 2.3 1 2.1 1 0.1 1 0.9 1 0.5 1 -1.3 1 0.4 1 0.1 1 0.9 1 0.4 1 -0.5 1 0 1 0.7 1 -1.2 1 -0.8 1 0.6 1 1.8 1 1.8 1 -0.2 1 -1.3 1 -1 1 0.2 1 -0.4 1 0.2 1 1 1 0.9 1 -1.9 1 -4 1 -4.5 1 -0.5 1 4.2 1 2.6 1 2.3 1 0.6 1 -2.1 1 -0.3 1 0.4 1 -1.1 1 -0.6 1 -1.4 1 -2.5 1 0.8 1 4.4 1 -0.5 1 -3.9 1 -1 1 1.5 1 2.5 1 0.7 1 -3.1 1 -2.7 1 -0.1 1 2.7 1 3.8 1 1.6 1 0.5 1 1.4 1 -0.1 1 -0.7 1 -0.5 1 -1.7 1 -2.9 1 2.3 1 2.7 1 1.2 1 2.3 1 0.1 1 -3.8 1 -1.7 1 -0.2 1 -1.6 1 -1.2 1 1.2 1 2.7 1 -1.8 1 0.8 1 2.1 1 1.9 1 0 1 -1.4 1 -0.4 1 1.1 1 0.7 1 -1.2 1 -0.2 1 -2 1 -1 1 -1.8 1 -3.3 1 0.4 1 0.9 1 3.1 1 1.8 1 -0.6 1 -0.5 1 -2.6 1 -1.6 1 1.8 1 2.9 1 1.7 1 -1.1 1 -0 1 -0.7 1 0.4 1 -0.1 1 -0.6 1 1 1 1.3 1 -0.5 1 0.6 1 0.1 1 1.1 1 -0.4 1 -1.4 1 -1.6 1 -0 1 -0.7 1 0.2 1 0.6 1 -2.6 1 -1.6 1 -0.6 1 1.7 1 2.6 1 0.6 1 -1.5 1 2.3 1 0 1 2.3 1 -1.4 1 -2.2 1 1.4 1 1.1 1 -0.7 1 0.7 1 -0.5 1 1.6 1 -3.7 1 -1.4 1 -0.4 1 2.6 1 1.4 1 -3.3 1 -1.1 1 -0.4 1 0.6 1 0.7 1 2.3 1 2.2 1 -0.1 1 -0.2 1 -0.7 1 0.4 1 0.6 1 -1.2 1 -0.1 1 1.1 1 -1.1 1 0.1 1 1.3 1 1.6 1 -3.3 1 -1.3 1 2.2 1 0.2 1 0.7 1 -2.4 1 -2 1 -2.2 1 -2.5 1 -1.5 1 2.1 1 4.4 1 2.5 1 0.2 1 -0.4 1 1 1 -2.5 1 0.2 1 0.6 1 1 1 -0.3 1 0.1 1 1.2 1 0.2 1 -0.5 1 -1.3 1 0.5 1 -0.3 1 -0.3 1 -0.6 1 -1.6 1 -0.2 1 0.7 1 2.3 1 -1 1 1.9 1 0.9 1 -0.7 1 -0.7 1 -0.3 1 -1.7 1 0.5 1 0.3 1 -0.6 1 -3.2 1 0.5 1 2.5 1 -0.8 1 -1.8 1 1.9 1 -0.4 1 -0.6 1 1.5 1 1.3 1 -0.4 1 -1.1 1 -3.1 1 0 1 1.8 1 0.7 1 1.1 1 0.5 1 1.3 1 2 1 -1.9 1 -2.1 1 2 1 -0.9 1 0.3 1 1.1 1 0.5 1 -1.1 1 -0.3 1 -0.8 1 -1.2 1 1.3 1 0.5 1 -0.4 1 -0.5 1 0.4 1 -0.2 1 -1.4 1 -2.1 1 -1.9 1 -3.8 1 1.2 1 3.8 1 0.4 1 2 1 0.1 1 3.4 1 1.4 1 0.4 1 0.2 1 0.7 1 0.2 1 -1.1 1 -2.3 1 -1.1 1 -0.8 1 1.9 1 1.3 1 -0.4 1 -1.3 1 -1.8 1 0.2 1 -4.9 1 -1.4 1 5 1 1.8 1 2.1 1 -1.5 1 -1.1 1 1 1 -3.6 1 1.7 1 0.1 1 1.5 1 0.6 1 1.2 1 -1.1 1 0.4 1 0.4 1 -0.5 1 0 1 -1.6 1 -0.4 1 -0.5 1 -1.4 1 -1.5 1 2.1 1 2.6 1 1.4 1 -1.1 1 0.2 1 0.4 1 1 1 -1.4 1 -0.8 1 0.7 1 0.1 1 0.1 1 2 1 2.6 1 -1.4 1 -1.7 1 -2 1 0.4 1 -0.5 1 0.6 1 -1.1 1 -2.5 1 -1.3 1 -1.9 1 1 1 2.2 1 2.2 1 -2 1 -0.6 1 2.1 1 0.8 1 2.6 1 -1 1 0.1 1 -1.1 1 0.6 1 1.8 1 -0.2 1 -3.8 1 -0.3 1 1.4 1 -0.1 1 -0.5 1 -0.5 1 -0.6 1 -0.9 1 0.8 1 1.1 1 2.1 1 -1 1 0.1 1 -1.2 1 1.4 1 1 1 0.5 1 -0.8 1 -1.7 1 1.4 1 0.2 1 -0.3 1 -0.2 1 -0.1 1 0.8 1 -1.7 1 -0.6 1 -0.3 1 0.8 1 1.4 1 -1 1 -1.2 1 -1.3 1 -0.8 1 2.1 1 1.6 1 -1.3 1 0.1 1 0.5 1 -0.5 1 0.7 1 0.8 1 0.4 1 0.3 1 0.5 1 -0.5 1 -0 1 -0.2 1 -1.9 1 -0.8 1 0.8 1 0.8 1 0.4 1 -0.7 1 -28.1 1 -0.7 1 0.7 1 0 1 -0.6 1 -1.8 1 0.2 1 1.3 1 -0.7 1 -0.4 1 1.7 1 1.8 1 2 1 2V239.0Z"/>
<path fill="#f3f0f3" d="M115 239.0V178.2l1 0.1 1 -1.8 1 -1.4 1 -2 1 0.4 1 0.8 1 -1.4 1 -1.8 1 -1.1 1 1.7 1 2.3 1 2.1 1 0 1 -1.5 1 -1.1 1 0.3 1 2 1 1.6 1 -0.1 1 0.5 1 -0.4 1 -2.8 1 -2.8 1 -2 1 6.3 1 4.5 1 0.8 1 0.5 1 -0.7 1 1 1 0.1 1 -0.7 1 -1.4 1 1.6 1 3.2 1 1.4 1 0.6 1 -1 1 0.7 1 1.5 1 -0.9 1 -1.1 1 0.3 1 1.4 1 0.3 1 -2.6 1 -0.7 1 1.3 1 0.6 1 -0.7 1 -0.2 1 0.2 1 0.3 1 -0.5 1 -1 1 -2 1 -2 1 -1.2 1 -0.5 1 2 1 4 1 2.4 1 0.3 1 -0.1 1 -1.8 1 -1 1 2.6 1 1.9 1 -3.1 1 -2.4 1 -0.1 1 1.1 1 -0.2 1 -2 1 1.1 1 2.3 1 2 1 0.5 1 -3.7 1 -2.3 1 -0.2 1 -0.6 1 1.7 1 0.9 1 -0.2 1 1.6 1 1.3 1 -1 1 0.5 1 -0.2 1 0.3 1 0.2 1 -0.4 1 0.2 1 0.4 1 -1 1 -0.4 1 0.8 1 1.4 1 1.7 1 -0.3 1 -0.9 1 -1.3 1 -0.1 1 -0.6 1 0.2 1 1.1 1 1.2 1 -1.5 1 -4.3 1 -4.3 1 -0.5 1 3.4 1 2.3 1 2.8 1 0.3 1 -1.9 1 0.2 1 0.6 1 -1.3 1 -0.6 1 -0.9 1 -2.2 1 0.9 1 3.6 1 -0.6 1 -3.7 1 -0.7 1 1.4 1 2.8 1 1 1 -3.5 1 -2.8 1 -0.3 1 2.6 1 3.6 1 1.3 1 0.8 1 1.1 1 0 1 -0.4 1 -0.6 1 -1.5 1 -2 1 2.9 1 2.2 1 0.4 1 1.8 1 0.3 1 -3.1 1 -1.3 1 -0.1 1 -1.7 1 -1.5 1 0.4 1 2.3 1 -1.8 1 1.1 1 2.3 1 1.7 1 -0.1 1 -1 1 -0.1 1 0.4 1 0 1 -0.7 1 0.4 1 -1.7 1 -1.1 1 -1.8 1 -3.4 1 0.6 1 1.1 1 2.8 1 1.7 1 -0.5 1 -0.4 1 -2.7 1 -1.9 1 1.3 1 3.3 1 2.3 1 -1.2 1 -0.7 1 -0.6 1 0.8 1 0.2 1 -0.7 1 1 1 1.3 1 -0.5 1 -0.1 1 0 1 1.6 1 -0.4 1 -1.3 1 -1.9 1 -0.1 1 0 1 -0.2 1 0.1 1 -2.4 1 -1.4 1 -0.5 1 1.5 1 2.3 1 1 1 -1.1 1 2.4 1 -0.3 1 1.7 1 -1.6 1 -1.5 1 1.2 1 1 1 -0.4 1 0.9 1 -0.7 1 1.4 1 -3.2 1 -0.3 1 -0.4 1 1.8 1 0.9 1 -3.9 1 -0.6 1 -0 1 0.7 1 1.2 1 2.1 1 1.4 1 -1 1 0.2 1 -0.1 1 0 1 0.1 1 -0.6 1 0.8 1 1.3 1 -1.3 1 0 1 1 1 0.4 1 -2.9 1 0.1 1 2.2 1 -0.3 1 -0.1 1 -2.8 1 -1.6 1 -2 1 -2.3 1 -0.8 1 2.2 1 4 1 2.5 1 0.1 1 -0.5 1 1.2 1 -2.1 1 -0.6 1 0.6 1 1.6 1 -0.4 1 -0.9 1 1.1 1 0.5 1 -0.6 1 -1.2 1 0.7 1 0 1 -0.3 1 -0.9 1 -1.2 1 -0.2 1 0.7 1 2.5 1 -0.8 1 1.2 1 1.1 1 -0.7 1 -0.7 1 0.2 1 -1.9 1 0.8 1 0.3 1 -0.8 1 -2.7 1 0.4 1 1.9 1 -1.1 1 -1.9 1 2.2 1 0.1 1 -0.6 1 1 1 0.9 1 -0.7 1 -1.1 1 -2.7 1 0.3 1 1.3 1 0.5 1 1.2 1 0.9 1 1 1 1.9 1 -1.1 1 -1.9 1 1.7 1 -1.2 1 0.1 1 1.2 1 1.2 1 -0.7 1 -0.5 1 -1.1 1 -1.4 1 1.7 1 0.5 1 -1 1 -0.8 1 0.2 1 -0.2 1 -0.8 1 -1.9 1 -2.2 1 -3.5 1 1.4 1 3.8 1 0.4 1 1.8 1 0.3 1 3.1 1 1.1 1 0.1 1 0.7 1 0.7 1 -0.3 1 -1.2 1 -1.7 1 -0.5 1 -1.1 1 1.3 1 0.9 1 -0.5 1 -1.3 1 -1.9 1 0.7 1 -4.2 1 -1.6 1 4.7 1 1.7 1 2.6 1 -1.2 1 -1.1 1 0.2 1 -4.1 1 1.7 1 0.1 1 1.8 1 0.6 1 1.2 1 -0.7 1 0.9 1 0.3 1 -1 1 0.1 1 -1.4 1 -0.4 1 -1 1 -1.6 1 -1.2 1 1.9 1 2.6 1 1.8 1 -0.9 1 -0 1 0.4 1 0.9 1 -1.4 1 -0.5 1 0.5 1 0.3 1 -0.3 1 1.1 1 2.1 1 -1.3 1 -0.6 1 -1.6 1 0.2 1 -0.7 1 0.6 1 -1 1 -2.4 1 -1.3 1 -1.8 1 1.7 1 2.3 1 2 1 -1.1 1 -0.3 1 1.7 1 0.1 1 2 1 -1.5 1 -0.2 1 -0.6 1 1.2 1 1.2 1 -0.3 1 -2.7 1 0.4 1 0.7 1 -0.9 1 -0.4 1 -0.7 1 -0.4 1 -0.4 1 1 1 0.4 1 1.6 1 -1.1 1 0.3 1 -1.3 1 1.7 1 1.4 1 0.5 1 -0.8 1 -1.5 1 1.6 1 0.1 1 -1.2 1 -0.5 1 0.6 1 1.5 1 -1.4 1 -0.6 1 -0.3 1 0.3 1 1 1 -0.9 1 -1.7 1 -1.3 1 -0.4 1 2.2 1 1.8 1 -1.3 1 0.3 1 0 1 -0.4 1 0.7 1 1.1 1 0.1 1 -0.2 1 -0.4 1 0.2 1 1.1 1 -0.3 1 -2 1 -0.3 1 0.9 1 -0.1 1 0.2 1 -0.6 1 -26.1 1 -0.8 1 0.5 1 -0.2 1 -1.1 1 -2.3 1 0.9 1 1.8 1 -0.9 1 -1 1 1.3 1 2 1 2.4 1 2V239.0Z"/>
<path fill="#dccd80" d="M115 239.0V180.5l1 0.3 1 -1.4 1 -1.1 1 -2.1 1 -0.1 1 0.4 1 -1.1 1 -0.8 1 -0.4 1 1.1 1 1.7 1 2.1 1 -0.5 1 -1.9 1 -1 1 0.7 1 2.1 1 1.5 1 -0.1 1 0.5 1 -0.5 1 -1.9 1 -1.8 1 -1.4 1 5.5 1 3.4 1 0.3 1 0.4 1 -0.5 1 1.1 1 0.6 1 -0.2 1 -0.8 1 1.8 1 3 1 0.9 1 0.1 1 -0.7 1 0.5 1 1 1 -1.2 1 -1.2 1 0.2 1 1.4 1 0.1 1 -2.5 1 -0.4 1 1.7 1 0.8 1 -0.4 1 -0.1 1 -0.2 1 0.3 1 -0.7 1 -1.1 1 -1.8 1 -1 1 -0.4 1 -1.1 1 0.9 1 3.4 1 2 1 0 1 0 1 -1.1 1 -0.8 1 2 1 1.6 1 -2.7 1 -2 1 -0.7 1 0.9 1 0.1 1 -1.9 1 0.8 1 2.3 1 2 1 0.4 1 -3.4 1 -1.5 1 0.5 1 -0.2 1 1.8 1 0.4 1 -0.5 1 1 1 0.9 1 -0.7 1 1 1 -0.5 1 -0.2 1 0 1 -0.5 1 0.4 1 0.2 1 -1 1 -0 1 1.1 1 1.3 1 1.5 1 -0.8 1 -1.5 1 -0.9 1 0.3 1 -0.2 1 0.5 1 0.7 1 0.7 1 -0.9 1 -3.3 1 -3.4 1 -0.9 1 2.1 1 1.5 1 2.5 1 0.1 1 -1.6 1 0.5 1 0.8 1 -1.5 1 -0.5 1 -0.5 1 -1.7 1 0.7 1 2.9 1 -0.4 1 -2.1 1 -0.5 1 1 1 2.3 1 0.1 1 -3.3 1 -2 1 0.3 1 2.4 1 3.3 1 0.7 1 0.6 1 0.5 1 -0.5 1 -0.4 1 -0.6 1 -1.2 1 -1.6 1 3.2 1 1.6 1 -0.1 1 1.9 1 0.5 1 -2.4 1 -1.1 1 -0.1 1 -1.8 1 -1.3 1 0.8 1 1.7 1 -2.4 1 0.8 1 2.1 1 1.4 1 -0.1 1 -0.3 1 -0.1 1 0.4 1 0.2 1 -0.8 1 0.1 1 -1.4 1 -0.3 1 -1.1 1 -2.7 1 0.7 1 -0 1 2.1 1 1.1 1 -0.8 1 0.6 1 -1.6 1 -1.9 1 0.4 1 2.9 1 2 1 -1.4 1 -0.6 1 -0.4 1 1.1 1 0.2 1 -0.4 1 0.5 1 1.1 1 -0.5 1 -0.3 1 0 1 1.6 1 -1.2 1 -1.1 1 -0.9 1 0.1 1 -0.3 1 -0.2 1 0.3 1 -1.8 1 -0.7 1 -0.4 1 1.3 1 1.5 1 0.4 1 -1.3 1 2.1 1 -0.3 1 2.2 1 -1.5 1 -1.8 1 1.4 1 1.3 1 -0.4 1 0.7 1 -0.8 1 1.3 1 -2.9 1 -0.3 1 -0.7 1 1.4 1 1.2 1 -3.2 1 -0.6 1 -0.4 1 0.7 1 1.3 1 1.8 1 1.3 1 -1.1 1 0.2 1 -0.4 1 -0.1 1 0.3 1 -0.7 1 0.4 1 1.5 1 -0.3 1 -0.3 1 0.3 1 -0 1 -2.8 1 0.6 1 2.6 1 -0.3 1 -0.3 1 -2.5 1 -1.3 1 -1.7 1 -1.9 1 -0.7 1 1.7 1 3.5 1 2.4 1 0.1 1 -0.3 1 1.1 1 -2.1 1 -0.7 1 0.3 1 1.5 1 -0 1 -1.3 1 0.5 1 0.6 1 -0.3 1 -0.6 1 1.1 1 0.3 1 -0.4 1 -1.6 1 -1.3 1 0.6 1 0.8 1 1.6 1 -0.9 1 1.3 1 0.8 1 -0.8 1 -0.4 1 0.8 1 -1.8 1 -0.1 1 0.1 1 -0.4 1 -2.4 1 0.5 1 1.9 1 -0.9 1 -1.7 1 2.2 1 -0.4 1 -1 1 1.4 1 1.5 1 -0.6 1 -0.8 1 -2 1 0.7 1 1 1 -0.8 1 0.8 1 1 1 0.8 1 1.4 1 -1.5 1 -1.7 1 1.8 1 -0.9 1 0.5 1 1 1 0.7 1 -0.8 1 0 1 -0.9 1 -1.5 1 1.3 1 0.2 1 -0.9 1 -0.5 1 0.8 1 0.3 1 -0.7 1 -2 1 -2.1 1 -3.1 1 1.5 1 3.1 1 -0.3 1 1.7 1 -0 1 3.3 1 1 1 0.2 1 0.3 1 0.4 1 -0.4 1 -0.7 1 -1.5 1 -0.6 1 -0.7 1 1.1 1 0.8 1 0 1 -1 1 -1.6 1 0.9 1 -3.2 1 -1.9 1 3.8 1 1 1 2.1 1 -0.8 1 -1.1 1 -0 1 -4.5 1 1.6 1 0.6 1 2.1 1 0.4 1 0.9 1 -0.7 1 1.4 1 0.4 1 -1.4 1 0.1 1 -1 1 -0.7 1 -0.6 1 -0.8 1 -0.8 1 1.2 1 1.5 1 1.5 1 -0.7 1 -0 1 0.2 1 0.6 1 -1.6 1 -0.5 1 0.8 1 0.4 1 -0.2 1 1.2 1 2.4 1 -1.7 1 -0.2 1 -1.2 1 0.4 1 -0.9 1 0.1 1 -0.7 1 -1.4 1 -0.5 1 -1.7 1 1.2 1 1.7 1 1.3 1 -1.6 1 -0.3 1 1.5 1 0.2 1 2.5 1 -1 1 -0.5 1 -1 1 1 1 1.2 1 -0.4 1 -2.5 1 0.5 1 0.8 1 -1 1 -0.4 1 -0.3 1 0.1 1 0.1 1 1.2 1 0.2 1 1 1 -1.4 1 0 1 -1.2 1 1.5 1 1.1 1 0.3 1 -0.4 1 -1.4 1 1.6 1 0.1 1 -1.5 1 -0.8 1 0.6 1 1.9 1 -1.1 1 -0.2 1 -0 1 -0 1 1 1 -0.6 1 -1.2 1 -1.4 1 -1.1 1 2.2 1 1.6 1 -1.6 1 0.3 1 0.3 1 -0.5 1 0.5 1 0.9 1 0.3 1 0.2 1 -0.4 1 -0.3 1 0.8 1 -0.4 1 -1.7 1 0.3 1 0.5 1 -0.5 1 0.2 1 -0.4 1 -25.8 1 -1.2 1 0.1 1 -0.1 1 -1 1 -2 1 1 1 1.6 1 -1.2 1 -1 1 1.6 1 2 1 2.2 1 2.6V239.0Z"/>
<path fill="#c9306e" d="M115 239.0V184.8l1 0.1 1 -1.5 1 -1 1 -1.8 1 -0.1 1 0.7 1 -0.9 1 -1.1 1 -0.6 1 1.3 1 1.7 1 1.8 1 0.1 1 -1.5 1 -1.5 1 -0.4 1 2.1 1 2.8 1 0.5 1 0.1 1 -0.4 1 -1.8 1 -1.4 1 -0.9 1 5.3 1 3.6 1 0.3 1 0.1 1 -0.6 1 0.6 1 1 1 0.6 1 0.1 1 1.2 1 2.6 1 0.7 1 -0.7 1 -0.7 1 0.6 1 1.4 1 -1.2 1 -1.3 1 -0.2 1 0.6 1 0.2 1 -1.3 1 -0.7 1 1.2 1 1 1 -0.2 1 -0.2 1 0.6 1 -0.1 1 -0.8 1 -0.6 1 -1.9 1 -1 1 0.3 1 -1.1 1 0.5 1 2.3 1 1.7 1 0.4 1 -0.4 1 -1.7 1 -0.3 1 2.6 1 1.6 1 -2.4 1 -2.4 1 -1.1 1 0.5 1 0.2 1 -1.3 1 1.2 1 2.5 1 1.7 1 -0.4 1 -3 1 -1.1 1 0.7 1 0.1 1 1.7 1 0.3 1 -0.8 1 0.9 1 0.8 1 -0.2 1 1.3 1 -0.4 1 -0.8 1 -0.4 1 -0.5 1 0.2 1 -0 1 -0.7 1 0.1 1 0.9 1 1.2 1 1.5 1 -0.7 1 -1.3 1 -0.3 1 0.3 1 -0.5 1 0.1 1 0.9 1 1.1 1 -0.2 1 -3.3 1 -3.8 1 -0.8 1 1.6 1 1.7 1 2.1 1 -0.4 1 -1.1 1 0.3 1 0.4 1 -1.4 1 -0.3 1 -0.9 1 -1.3 1 1.5 1 2.6 1 -0.1 1 -1.4 1 -0.2 1 0.3 1 0.9 1 0.4 1 -2.7 1 -1.7 1 1.1 1 2.1 1 2.7 1 1 1 0.7 1 -0.2 1 -0.8 1 -0.8 1 -0.6 1 -0.8 1 -1.3 1 3.3 1 1.8 1 0.2 1 0.7 1 -0 1 -1.7 1 -1.1 1 -0.1 1 -0.9 1 -1.5 1 0.5 1 2.3 1 -2 1 0.5 1 0.7 1 0.9 1 0.3 1 -0.1 1 -0.1 1 0.1 1 -0.1 1 -0.3 1 0.9 1 -1.4 1 -0.5 1 -0.7 1 -2.4 1 0.6 1 -0.2 1 2.4 1 1.5 1 -1.5 1 0.1 1 -1.3 1 -1.4 1 0.3 1 1.6 1 2 1 -0.7 1 -0.5 1 -0.5 1 0.9 1 -0.2 1 -0.4 1 0.2 1 1.1 1 -0 1 -0.5 1 0.2 1 1.7 1 -1.3 1 -0.4 1 -0.4 1 -0.4 1 -0.3 1 -0.4 1 -0.4 1 -1.7 1 -0.2 1 -0.6 1 1.6 1 1.7 1 0.3 1 -1.1 1 2.1 1 -0.5 1 2.5 1 -1.7 1 -2 1 1.3 1 1.3 1 -0.6 1 1.1 1 -0.8 1 0.5 1 -3.2 1 -0.2 1 -0.2 1 1.8 1 1.8 1 -2.6 1 -0.3 1 -1 1 0.1 1 0.9 1 2 1 1.2 1 -1.5 1 0.1 1 -0.9 1 -0.6 1 1 1 -0.2 1 0.1 1 1.3 1 0.1 1 0.3 1 0.8 1 -0.2 1 -3.2 1 -0.1 1 2.1 1 -0.3 1 -0.3 1 -1.9 1 -0.4 1 -1.2 1 -1.7 1 -0.8 1 1.6 1 2.3 1 1.6 1 0.5 1 -0.3 1 0.6 1 -2.4 1 -0.9 1 1.1 1 2.3 1 -0.1 1 -1 1 0.2 1 -0.2 1 -0.4 1 0.2 1 1.1 1 -0.4 1 0.1 1 -1 1 -1.2 1 0.6 1 0.2 1 1.6 1 -0.8 1 0.6 1 0.3 1 -0.7 1 -0.2 1 0.8 1 -1.2 1 0.6 1 0.4 1 -0.7 1 -2.2 1 0.3 1 1.6 1 -0.6 1 -1.2 1 2.3 1 -0.9 1 -1.3 1 1.5 1 1.4 1 -0.5 1 -0.2 1 -1.6 1 0.1 1 0.6 1 -1.1 1 1.2 1 1.4 1 0.7 1 0.8 1 -1.6 1 -1.4 1 1.7 1 -1 1 0.5 1 0.9 1 0.6 1 -0.9 1 -0.5 1 -1 1 -1.6 1 1.6 1 0.4 1 -0.3 1 -0.3 1 0.3 1 0.6 1 0.2 1 -1.6 1 -2.5 1 -3.8 1 1 1 2.9 1 0.1 1 1.8 1 -0.3 1 2.7 1 0.6 1 0.3 1 0.6 1 0.4 1 -0.2 1 -1 1 -1.2 1 -0.1 1 -0.3 1 1.1 1 0.7 1 -0.5 1 -0.9 1 -0.9 1 0.9 1 -3.6 1 -2.2 1 4.3 1 0.8 1 1.3 1 -1.2 1 -0.4 1 0.5 1 -3.9 1 1.7 1 -0.1 1 1.6 1 0.3 1 0.6 1 -1 1 1.5 1 0.6 1 -1.8 1 0.3 1 -0.1 1 -0.6 1 0 1 -0.3 1 -0.8 1 1 1 0.7 1 0.8 1 -0.6 1 0.2 1 0.2 1 0.7 1 -1.7 1 -0.1 1 0.4 1 0.4 1 -0.1 1 0.9 1 2.7 1 -1.1 1 -0.3 1 -1.2 1 -0.1 1 -1.3 1 0.1 1 -0.5 1 -1.2 1 0.1 1 -1.1 1 1 1 0.9 1 1.4 1 -0.7 1 -0.8 1 1.1 1 -0.6 1 2.6 1 -0.6 1 -1.1 1 -1.2 1 1.3 1 1.2 1 -0.3 1 -2 1 0.8 1 0.6 1 -0.8 1 0.1 1 -0.4 1 -0.6 1 -0.3 1 1.8 1 0.7 1 0.4 1 -1.9 1 0.2 1 -0.6 1 1.2 1 0.5 1 0.1 1 -0 1 -0.4 1 1.2 1 -0.4 1 -1.4 1 -0.8 1 -0.1 1 1.4 1 -0.6 1 0.9 1 0.4 1 -0.6 1 0.4 1 -0.3 1 -0.9 1 -1.2 1 -0.9 1 2 1 1.2 1 -1.4 1 0.2 1 -0 1 -0.6 1 0.8 1 1.1 1 0.2 1 -0.1 1 -0.3 1 -0.4 1 1 1 0.1 1 -1.6 1 -0.5 1 0 1 0.2 1 0.6 1 -0.4 1 -27.3 1 -1.7 1 0.4 1 -0 1 -1.2 1 -2.3 1 1.3 1 1.6 1 -1.4 1 -0.9 1 1.9 1 2.1 1 2.3 1 2.7V239.0Z"/>
<path fill="#dc4cae" d="M115 239.0V188.2l1 0.2 1 -1.2 1 -1.1 1 -1.9 1 -0 1 1.1 1 -0.7 1 -1.6 1 -0.5 1 1.7 1 1.4 1 1.5 1 -0.1 1 -1.1 1 -1.1 1 -0.6 1 1.9 1 2.7 1 0.6 1 0.2 1 -0.4 1 -2 1 -1.8 1 -1.2 1 5.1 1 4.2 1 0.8 1 0.3 1 -0.3 1 -0 1 0.7 1 0.5 1 0.2 1 1.2 1 2.3 1 1.1 1 0.1 1 -0.9 1 0.4 1 1 1 -1.1 1 -1 1 -0.4 1 0.4 1 0.3 1 -1.2 1 -0.3 1 1 1 0.2 1 -0.5 1 0.3 1 0.9 1 0.2 1 -0.8 1 -0.7 1 -1.5 1 -1.5 1 -0.3 1 -0.6 1 0.5 1 2.1 1 1.2 1 0.6 1 -0.1 1 -1.6 1 -0 1 2.9 1 1.7 1 -2.7 1 -2.5 1 -1 1 0.4 1 0 1 -1.8 1 0.6 1 2.3 1 2.2 1 -0.1 1 -2.9 1 -1.1 1 0.1 1 -0.1 1 2.3 1 0.5 1 -0.9 1 0.4 1 0.7 1 0 1 1.5 1 -0.1 1 -0.7 1 -0.7 1 -0.3 1 0.2 1 0.3 1 -0.5 1 -0.1 1 0.8 1 1 1 1.2 1 -0.7 1 -1 1 0.1 1 0.5 1 -0.6 1 -0.8 1 0.5 1 0.9 1 -0.3 1 -3 1 -3.2 1 -0.8 1 1.2 1 2 1 2.4 1 -0 1 -1.5 1 0 1 0.3 1 -1.3 1 -0.5 1 -1.2 1 -1.4 1 1.8 1 2.5 1 -0 1 -1.2 1 -0.2 1 0.3 1 0.6 1 0.3 1 -3.1 1 -2 1 1.3 1 2.4 1 2.5 1 1 1 1.1 1 -0.4 1 -0.7 1 -0.7 1 -0.7 1 -0.6 1 -1.2 1 3.2 1 1.8 1 -0.2 1 0.5 1 0.1 1 -1.7 1 -0.9 1 -0.1 1 -0.9 1 -1.4 1 0.2 1 1.5 1 -1.6 1 1.1 1 0.8 1 0.5 1 0.1 1 0.3 1 -0.2 1 -0.7 1 -0.1 1 -0.2 1 0.6 1 -0.9 1 -0 1 -0.9 1 -2.4 1 0.6 1 0.1 1 2.7 1 1.6 1 -1.7 1 0.1 1 -1.4 1 -1.6 1 0.5 1 1.3 1 2.3 1 -0.1 1 -0.9 1 -1.2 1 0.9 1 -0.3 1 -0.5 1 -0 1 1.2 1 -0.1 1 -0 1 0.5 1 2.1 1 -1.4 1 -1.4 1 -0.8 1 -0.2 1 0.1 1 -0.1 1 -0.6 1 -2 1 -0.4 1 -0.4 1 1.6 1 1.7 1 0.2 1 -0.8 1 2.5 1 -0.7 1 2.2 1 -1.2 1 -1.8 1 0.9 1 0.7 1 -0.7 1 1.4 1 -0.9 1 0.6 1 -2.6 1 0.1 1 -0.2 1 1.9 1 1.6 1 -3 1 -0.1 1 -0.9 1 0.2 1 1.1 1 2 1 1.2 1 -1.9 1 -0.3 1 -1 1 -0.8 1 0.9 1 0 1 0.3 1 0.9 1 -0.5 1 0.5 1 1.6 1 -0.1 1 -2.9 1 -0.3 1 1.9 1 -0.7 1 -0.1 1 -1.6 1 0.1 1 -0.9 1 -2.1 1 -1.5 1 1.7 1 2.4 1 1.7 1 0.8 1 -0 1 0.3 1 -2.1 1 -1 1 0.9 1 2.8 1 -0 1 -1.2 1 0.2 1 -0.3 1 -0.5 1 -0 1 0.8 1 -0.4 1 -0 1 -1.2 1 -1.4 1 0.5 1 0.4 1 1.9 1 -1.1 1 0.7 1 0.3 1 -0.8 1 0.1 1 1 1 -1.1 1 0.6 1 0.3 1 -0.7 1 -1.9 1 0.2 1 1.3 1 -0.3 1 -1 1 2.1 1 -0.7 1 -1.7 1 0.9 1 1.2 1 -0.6 1 -0.2 1 -1.1 1 0.5 1 0.5 1 -1.4 1 1 1 1.3 1 0.6 1 1.1 1 -0.7 1 -1.7 1 1.4 1 -0.6 1 0.7 1 0.4 1 0.3 1 -1.2 1 -0.4 1 0.2 1 -1.1 1 0.5 1 -0 1 0.4 1 -0 1 0.2 1 0.5 1 -0.1 1 -1.6 1 -2.5 1 -4 1 1.1 1 2.9 1 0.1 1 1.5 1 -0.8 1 2.9 1 0.5 1 0.2 1 0.7 1 0.9 1 -0.2 1 -0.8 1 -0.9 1 -0.1 1 -1 1 0.8 1 1.1 1 -0.3 1 -0.9 1 -0.8 1 0.7 1 -3.4 1 -1.9 1 4.1 1 0.7 1 1.7 1 -0.9 1 -0.5 1 0.1 1 -4 1 2 1 -0.3 1 1.4 1 0.1 1 0.5 1 -1.1 1 1.5 1 0.8 1 -2 1 0.2 1 0.3 1 0.1 1 -0.3 1 -1.2 1 -0.8 1 1.6 1 0.7 1 0.7 1 -0.6 1 0.1 1 0.1 1 0.9 1 -1.9 1 0.1 1 1 1 0.3 1 -0.4 1 0.6 1 2.5 1 -1.1 1 -0 1 -0.9 1 -0.3 1 -1.2 1 0.2 1 -0.7 1 -1.3 1 0.3 1 -1.1 1 0.7 1 0.6 1 1.1 1 -0.1 1 -0.5 1 0.8 1 -0.6 1 2.6 1 -0.6 1 -0.8 1 -1 1 1.3 1 0.9 1 -0.8 1 -1.8 1 1 1 1 1 -0.7 1 -0 1 -0.3 1 -0.2 1 -1 1 1.4 1 0.8 1 0.5 1 -1.4 1 0.5 1 -0.7 1 1 1 0.1 1 -0.5 1 0.2 1 -0 1 1.1 1 -0.5 1 -1.6 1 -0.8 1 0.2 1 1.6 1 -0.9 1 0.4 1 0.6 1 -0.1 1 0.1 1 -0.6 1 -0.7 1 -0.9 1 -1 1 2.1 1 1.2 1 -1.7 1 0.1 1 -0.1 1 -0.3 1 1.1 1 0.8 1 -0 1 -0.1 1 -0.1 1 -0.6 1 0.4 1 0.1 1 -0.9 1 -0.3 1 0.1 1 0.1 1 0.5 1 -0.4 1 -25.5 1 -1.7 1 0.1 1 -0.1 1 -1 1 -2.4 1 0.9 1 2.1 1 -1.4 1 -1 1 1.7 1 2.1 1 2 1 2.5V239.0Z"/>
<path fill="#7575f3" d="M115 239.0V191.5l1 0.3 1 -1 1 0.1 1 -1.3 1 -0.4 1 1 1 -0.3 1 -1.6 1 -0.6 1 1.4 1 1.1 1 0.7 1 -0.2 1 0.1 1 -0.6 1 -0.5 1 1.2 1 1.8 1 0.3 1 0 1 -0.3 1 -1.1 1 -0.4 1 -0.6 1 4.2 1 3.5 1 0.3 1 0.1 1 -0.1 1 -0 1 1 1 0.3 1 0.3 1 1.5 1 1.6 1 0.7 1 0.2 1 -0.8 1 0 1 0.4 1 -0.8 1 -0.1 1 -0.3 1 0 1 0.6 1 -0.8 1 -0.3 1 0.8 1 0.6 1 -0.6 1 0.6 1 0.7 1 -0.5 1 -0.8 1 -0.1 1 -1 1 -1.5 1 0.3 1 -0.4 1 -0.3 1 1 1 1 1 0.9 1 -0.2 1 -1.2 1 0.3 1 2.2 1 1.2 1 -1.5 1 -1.8 1 -1 1 -0.2 1 -0.6 1 -1.2 1 0.8 1 2.2 1 1.9 1 -0.4 1 -2.4 1 -0 1 0.4 1 -0.3 1 1.7 1 0.3 1 -1.3 1 0.5 1 1 1 -0.1 1 1.2 1 -0.1 1 -0.7 1 -0.4 1 -0.4 1 -0.1 1 0.1 1 -0 1 -0.1 1 0.3 1 1.1 1 0.7 1 -1.1 1 -0.3 1 0.6 1 0 1 -0.6 1 -0.4 1 0 1 0.8 1 0.6 1 -1.7 1 -2.4 1 -1 1 0.4 1 1.1 1 1.8 1 -0.6 1 -1.3 1 0.7 1 0.8 1 -0.5 1 -0.8 1 -1.4 1 -0.9 1 1.8 1 2.1 1 -0.1 1 -1 1 -0 1 0.6 1 0.6 1 -0.4 1 -2.7 1 -0.8 1 1.7 1 2 1 1.8 1 0 1 0.7 1 -0.2 1 -0.4 1 -0.3 1 -1.1 1 -1.6 1 -1.1 1 2.8 1 1.5 1 0.4 1 0.7 1 -0.2 1 -2.1 1 -0.7 1 0.2 1 -0.8 1 -0.6 1 0.7 1 1.4 1 -1.9 1 0.5 1 0.1 1 0.6 1 0.8 1 0.7 1 -0.5 1 -0.9 1 -0.4 1 -0.8 1 0.8 1 -0.4 1 0.4 1 -0.4 1 -1.8 1 0.8 1 -0.1 1 2 1 0.4 1 -1.6 1 1.4 1 0.1 1 -1 1 0.3 1 0.4 1 1 1 -0.6 1 -0.9 1 -0.4 1 1.1 1 -0.4 1 -0.6 1 -0.1 1 1.1 1 0 1 0 1 -0.2 1 1.8 1 -0.8 1 -0.8 1 -1 1 -0.4 1 0.3 1 -0.5 1 -1.1 1 -1.3 1 0.6 1 0.1 1 1.2 1 1.5 1 0.2 1 -1.7 1 2.1 1 -1.2 1 1.5 1 -0.8 1 -1.2 1 1.1 1 0.4 1 -0.7 1 1.9 1 -1 1 0.2 1 -2.6 1 0.6 1 0.4 1 1.9 1 1.1 1 -2.5 1 0.3 1 -0.5 1 0.2 1 0.4 1 1.6 1 0.5 1 -2 1 0.1 1 0.1 1 -0.5 1 0.5 1 -0.4 1 0.2 1 1.6 1 -0.3 1 -0 1 1 1 -0.3 1 -2.6 1 -0.1 1 1.4 1 -0.4 1 0.6 1 -1.3 1 0.2 1 -0.7 1 -1.4 1 -0.8 1 1 1 1.2 1 0.6 1 0.6 1 0.6 1 -0 1 -2.3 1 -0.7 1 0.3 1 2.5 1 0.3 1 -0.7 1 0.5 1 -0.1 1 -0.4 1 -0.3 1 0.7 1 -0.6 1 -0 1 -0.6 1 -0.7 1 1.2 1 -0 1 1 1 -1.3 1 0.7 1 0.2 1 -1.7 1 0 1 1.2 1 -0.7 1 0.3 1 -0.4 1 -0.6 1 -0.9 1 1.2 1 1.2 1 -1 1 -1.2 1 1.6 1 -0.7 1 -0.8 1 1 1 0.7 1 -0.4 1 0.5 1 -0.9 1 0.5 1 0.3 1 -1.8 1 0.4 1 1.3 1 0.9 1 0.7 1 -0.7 1 -0.6 1 1.5 1 -1 1 0.3 1 0.1 1 -0.1 1 -0.9 1 -0.1 1 0.2 1 -1.1 1 0.3 1 -0.2 1 0.1 1 0.3 1 0.4 1 0.8 1 0.3 1 -1.1 1 -2 1 -3 1 0.7 1 2.3 1 -0.7 1 1 1 -0.7 1 2.4 1 0.7 1 0.4 1 0.5 1 0.1 1 -0.4 1 -0.5 1 -0.3 1 -0 1 -1 1 0.5 1 0.8 1 -0.5 1 -0.2 1 0.3 1 1.5 1 -3.2 1 -1.9 1 3.1 1 0.1 1 1.1 1 -1 1 -0.8 1 0 1 -3.4 1 2.4 1 -0.5 1 1.5 1 0.1 1 0.5 1 -1 1 1.3 1 0.3 1 -1.7 1 0.3 1 0.3 1 0.1 1 -0.1 1 -0.6 1 -0.7 1 1.4 1 0.9 1 0.5 1 -1.4 1 -0 1 0.1 1 0.4 1 -0.9 1 0.4 1 0.5 1 0.6 1 -0.4 1 0 1 1.7 1 -0.7 1 0.3 1 -0.9 1 -0.3 1 -1.6 1 -0.4 1 0.1 1 -0.4 1 1 1 -0.7 1 0.6 1 0.4 1 0.9 1 -0.6 1 -0.4 1 0.3 1 -1.3 1 2.6 1 -0.2 1 -0.8 1 -0.6 1 1.4 1 0.4 1 -0.8 1 -1.4 1 1.2 1 1.1 1 -1 1 -0.2 1 -0.1 1 -0.1 1 -0.2 1 1.3 1 0.1 1 -0 1 -1.6 1 0.5 1 0.2 1 1.1 1 -0.6 1 -0.2 1 0.8 1 -0.5 1 0.1 1 -1.1 1 -1.1 1 0.3 1 0.1 1 1.2 1 -0.6 1 0.2 1 0.4 1 -0 1 0.6 1 0.3 1 -0.5 1 -0.5 1 -0.5 1 1.4 1 0.3 1 -1.3 1 -0.2 1 -0.8 1 0 1 0.6 1 0.9 1 -0.6 1 -0.1 1 0.7 1 -0.3 1 0.2 1 0 1 -1 1 -0.6 1 0 1 0.6 1 0.6 1 -0.7 1 -28.4 1 -1.8 1 0.5 1 0.3 1 -0.8 1 -2.5 1 0.4 1 1.4 1 -1.3 1 -1.1 1 1.8 1 2.4 1 2.3 1 2.3V239.0Z"/>
<path fill="#ef7d6c" d="M115 239.0V221.1l1 0.4 1 -0.8 1 0.8 1 -0.7 1 -1.3 1 -0.4 1 0.2 1 -0.1 1 -0 1 0.5 1 0 1 0 1 -0.1 1 1.4 1 0.3 1 -1.4 1 -0.6 1 1 1 -0.4 1 -0.6 1 -0.3 1 -2.1 1 -0.5 1 -0.5 1 2.2 1 1.3 1 -0.5 1 -0.5 1 -0.9 1 -0.8 1 0.6 1 0.1 1 -0.4 1 0.7 1 1 1 0.8 1 0.6 1 -1 1 -0.1 1 0.6 1 -0.8 1 -0.1 1 -0.4 1 0.2 1 0.6 1 -0.7 1 -0 1 0.7 1 0.5 1 -0.9 1 0.2 1 0.5 1 -1.1 1 -0.8 1 0.8 1 0.1 1 -0.1 1 0.7 1 -1 1 -1.4 1 0.7 1 1.2 1 0.8 1 -0.5 1 -1.6 1 -0.1 1 2 1 1.2 1 -1 1 -1.8 1 -1 1 -0.1 1 -0.4 1 -0.6 1 1.1 1 1.6 1 1.1 1 -0.3 1 -1.3 1 0.1 1 0.7 1 0.2 1 0.8 1 -0.5 1 -1.4 1 0.3 1 1.2 1 0.7 1 0.8 1 -0.3 1 -1 1 -0.9 1 -0.1 1 0.4 1 0.3 1 -0.2 1 -0.2 1 0.3 1 0.8 1 0.2 1 -0.6 1 -0.4 1 0.1 1 -0.5 1 0 1 0.8 1 0.5 1 -0 1 0.5 1 -0.5 1 -0.9 1 -0.4 1 -0.5 1 -0.3 1 1.4 1 -0.4 1 -1 1 0.4 1 0.5 1 -0.4 1 -0 1 0.1 1 0.6 1 0.8 1 0.3 1 -1.3 1 -1 1 -0.2 1 0.3 1 0.5 1 0.7 1 -0.2 1 0.2 1 0.3 1 -0 1 0.4 1 -0.8 1 0.7 1 0.3 1 -0.1 1 -0.3 1 -0.6 1 -1.4 1 -1.6 1 2.3 1 1.7 1 0.5 1 0.2 1 -0.1 1 -0.9 1 -0.7 1 0 1 -0.3 1 -0.5 1 0.3 1 1.3 1 -1.6 1 0.6 1 -0.4 1 0.4 1 0.4 1 0 1 -0 1 -0.6 1 -0.3 1 -0.7 1 0.9 1 -0.4 1 0.5 1 0.2 1 -0.7 1 1.3 1 -0.7 1 0.4 1 0.3 1 -1.6 1 1.4 1 1.2 1 0 1 -0.6 1 -1.3 1 0.2 1 0.2 1 -0.3 1 0 1 1.4 1 -0.9 1 -1.1 1 -0.3 1 1.3 1 0.3 1 0.2 1 -0.4 1 1.4 1 -0.6 1 -0.5 1 -1.3 1 0.1 1 0.7 1 -0.6 1 -0.8 1 0.2 1 1.8 1 -0.2 1 -0.2 1 0.6 1 -0.1 1 -1.8 1 1.5 1 -1.6 1 1.6 1 -0.7 1 -1.2 1 1.4 1 0.2 1 -1.7 1 1.1 1 -0.3 1 1.4 1 -2.5 1 0.3 1 0.4 1 1.7 1 0.2 1 -2.8 1 0.8 1 0.3 1 0.7 1 0.3 1 1.2 1 0.3 1 -1.6 1 0.1 1 -0 1 -0.5 1 0.2 1 -0.6 1 0.1 1 1.7 1 0.1 1 0.3 1 0.9 1 -0.6 1 -2.2 1 -0.1 1 1.1 1 -0.7 1 0.4 1 -1.2 1 1.1 1 -0.1 1 -0.1 1 -0.2 1 -0.1 1 0.1 1 0.1 1 0.9 1 0.5 1 -0 1 -2.2 1 -0.6 1 0.5 1 2.1 1 0.7 1 -0.8 1 -0.1 1 0.2 1 -0.2 1 -0.6 1 0.2 1 -0.5 1 -0.2 1 -0.2 1 -0.2 1 0.6 1 -1.1 1 1.1 1 -0.8 1 1.3 1 -0.1 1 -1.8 1 0.7 1 1.3 1 -0.9 1 0.2 1 -0 1 -1.2 1 -1.8 1 1.3 1 1.6 1 -0.5 1 -1 1 1.3 1 -0.5 1 -0.1 1 0.6 1 0.2 1 -0.5 1 0.4 1 -0.4 1 0.7 1 0.1 1 -1.7 1 0.3 1 1.1 1 0.5 1 0.5 1 -0.7 1 -0.2 1 1.6 1 -1.2 1 -0 1 0 1 0.3 1 -0.4 1 -0.1 1 -0 1 -0.7 1 0.8 1 -0.2 1 0.3 1 0.2 1 0.2 1 0.4 1 0.4 1 -0.9 1 0 1 -1.1 1 0.2 1 0.4 1 -1.6 1 0.6 1 -0.8 1 1.5 1 -0.1 1 0.9 1 0.7 1 0.1 1 -0.4 1 -0.7 1 -0.1 1 0.7 1 -1.1 1 0 1 1 1 -0 1 -0.3 1 0.2 1 1.6 1 -1.9 1 -1.4 1 2.3 1 -0.4 1 0.4 1 -1.5 1 -0.7 1 0.8 1 -2.8 1 2.1 1 -1 1 0.9 1 0.4 1 0.9 1 -0.8 1 0.8 1 -0.1 1 -1.7 1 0.7 1 0.8 1 0.1 1 -0.3 1 -0.7 1 -0.8 1 1 1 0.4 1 0.5 1 -0.4 1 0.2 1 0.1 1 0.3 1 -0.7 1 -0 1 0.5 1 0.2 1 -0.7 1 -0 1 2 1 -0.6 1 0.5 1 -1.3 1 -0.5 1 -0.9 1 0.2 1 -0 1 -0.4 1 1.6 1 -0.8 1 0.6 1 0.2 1 0.3 1 -1 1 -0.2 1 0.4 1 -1.5 1 2 1 -0 1 -0.4 1 -0.3 1 1.3 1 0.3 1 -0.9 1 -1.1 1 1 1 0.4 1 -0.9 1 0.2 1 0.1 1 -0 1 -0.7 1 1.2 1 -0.3 1 0 1 -1.3 1 0.6 1 0.2 1 1.1 1 -0.6 1 -0.3 1 0.3 1 -0.5 1 0.8 1 -0.4 1 -0.5 1 0.6 1 -0.7 1 0.5 1 -0.3 1 0.5 1 -0 1 -0.4 1 0.9 1 0.7 1 -0.3 1 0.3 1 -0.6 1 0.1 1 0.2 1 -0.9 1 0.2 1 -1 1 -0.3 1 0.9 1 0.9 1 0.1 1 -0.2 1 0.2 1 -0.4 1 -0.1 1 -0.1 1 -0.6 1 -0.4 1 0.2 1 0.8 1 0.6 1 -1 1 -0.3 1 -1.5 1 -0.4 1 -0.6 1 -2.3 1 -3.7 1 0.9 1 2.2 1 -1.5 1 -0.6 1 3 1 2.4 1 2 1 2.5V239.0Z"/>
<path fill="#d31b1b" d="M115 239.0V222.1l1 0.2 1 -1.2 1 1 1 -0.3 1 -0.8 1 -0.3 1 0 1 0.2 1 -0.1 1 0.4 1 -0.2 1 0.1 1 0.3 1 1.2 1 0.3 1 -1 1 -0.6 1 0.5 1 -0.4 1 -0.1 1 0.2 1 -2 1 -0.9 1 -0.7 1 2.4 1 1.4 1 -0.7 1 -0.6 1 -1.2 1 -1.3 1 0.9 1 0.6 1 -0.2 1 0 1 1 1 0.9 1 0.4 1 -0.3 1 -0 1 0.2 1 -0.5 1 0.2 1 -0.2 1 0.1 1 0.4 1 -0.6 1 0.1 1 0.6 1 0.2 1 -1 1 0.5 1 0.7 1 -0.9 1 -1.1 1 0.6 1 0 1 0.1 1 0.6 1 -0.9 1 -1 1 0.8 1 0.6 1 0.6 1 -0.2 1 -1.4 1 0.3 1 1.7 1 1 1 -1.4 1 -1.6 1 -0.7 1 -0.2 1 -0.4 1 -0.1 1 0.9 1 1.2 1 0.8 1 -0 1 -1.2 1 -0.1 1 0.6 1 0.3 1 1 1 -0.5 1 -1.3 1 0.2 1 1.1 1 0.8 1 0.9 1 -0.6 1 -0.5 1 -0.5 1 -0.6 1 0.1 1 0 1 -0.1 1 -0.1 1 0.4 1 0.7 1 0.1 1 -0.4 1 -0.5 1 -0.1 1 -0.5 1 0 1 1 1 0.5 1 -0 1 0.5 1 -0.7 1 -0.8 1 -0.5 1 -0.1 1 -0.3 1 1.1 1 -0.4 1 -0.9 1 0.4 1 0.6 1 -0.3 1 -0.2 1 0 1 0.9 1 0.9 1 0.1 1 -1.4 1 -0.9 1 0.1 1 0.2 1 0.1 1 0.7 1 -0 1 0.4 1 0.4 1 -0.2 1 0.3 1 -0.7 1 0.2 1 0.2 1 0.1 1 -0.1 1 -0.6 1 -1.4 1 -1.3 1 2 1 1.7 1 0.8 1 0.1 1 -0.2 1 -0.8 1 -0.6 1 -0.2 1 -0.4 1 -0.7 1 0.2 1 1 1 -1.6 1 0.9 1 0 1 0.3 1 0.3 1 -0.2 1 0 1 -0.5 1 -0.3 1 -0.6 1 0.7 1 0.1 1 0.9 1 -0.4 1 -1 1 1.1 1 -0.7 1 0.5 1 0.5 1 -1.7 1 0.9 1 1.2 1 0.2 1 -0.3 1 -1 1 0 1 -0.1 1 -0.3 1 0.1 1 1.2 1 -0.5 1 -1.1 1 -0.6 1 1.5 1 0.1 1 0.5 1 -0.3 1 0.9 1 -0.9 1 -0.4 1 -1.1 1 0.3 1 0.8 1 -0.7 1 -0.7 1 0.1 1 1.8 1 0 1 -0.2 1 0.6 1 0.1 1 -2 1 1.5 1 -1.6 1 1.7 1 -0.5 1 -1.1 1 1.5 1 0.1 1 -1.4 1 0.8 1 -0.9 1 1.6 1 -1.9 1 0.4 1 0.1 1 1.7 1 0.3 1 -3.1 1 0.5 1 0.5 1 0.8 1 0.1 1 1 1 0.4 1 -1.8 1 0.3 1 0.4 1 -0.5 1 0.1 1 -0.5 1 0.1 1 1.3 1 -0.2 1 0.2 1 0.5 1 -0.3 1 -1.3 1 0 1 0.7 1 -0.7 1 0.5 1 -1.1 1 0.7 1 -0.2 1 -0 1 -0 1 -0 1 0 1 0.2 1 0.7 1 0.4 1 -0.1 1 -2.1 1 -0.2 1 0.3 1 1.8 1 0.8 1 -0.8 1 0.3 1 0.4 1 -0.4 1 -0.9 1 0.4 1 -0.2 1 -0.3 1 -0 1 -0.3 1 0.2 1 -0.8 1 1.2 1 -0.6 1 1.3 1 -0.4 1 -2 1 0.7 1 1.3 1 -1.2 1 0.1 1 0.4 1 -1.2 1 -1.7 1 1.2 1 1.6 1 -0.6 1 -1.1 1 0.9 1 -0.2 1 0.2 1 0.3 1 0.3 1 0.1 1 0.6 1 -0.5 1 0.4 1 0 1 -1.6 1 0.2 1 0.8 1 0.2 1 0.4 1 -0.5 1 0.3 1 1.5 1 -1.4 1 0.1 1 0.1 1 0.2 1 -0.7 1 -0 1 0.3 1 -0.9 1 0.6 1 -0.3 1 0.5 1 0.3 1 0.3 1 0.2 1 0.5 1 -0.8 1 0.1 1 -1.4 1 0.3 1 0.5 1 -1.9 1 0.8 1 -0.8 1 1.4 1 -0 1 1.2 1 0.6 1 -0.2 1 -0.3 1 -0.4 1 0.1 1 0.7 1 -1.1 1 -0.1 1 0.2 1 -0.3 1 -0.2 1 0.5 1 1.4 1 -1.6 1 -1.2 1 2 1 -0.4 1 0.7 1 -1.5 1 -0.9 1 1.1 1 -2.7 1 2.1 1 -1 1 1.1 1 0.2 1 0.7 1 -0.8 1 0.9 1 -0.2 1 -1.5 1 0.7 1 0.8 1 -0.1 1 -0.4 1 -0.5 1 -0.6 1 1.1 1 0.3 1 0.7 1 -0.3 1 -0.1 1 -0.5 1 0.2 1 -0.4 1 0 1 0.6 1 0.4 1 -0.5 1 -0.1 1 1.6 1 -0.6 1 0.3 1 -1.3 1 -0.2 1 -0.8 1 0.5 1 0.4 1 -0.4 1 1.1 1 -1.2 1 0.5 1 0.5 1 0.3 1 -1.2 1 -0.1 1 0.6 1 -1.2 1 1.7 1 -0.3 1 -0.3 1 -0.4 1 0.9 1 0.1 1 -0.6 1 -1 1 0.9 1 0.3 1 -0.8 1 0.3 1 0.1 1 -0.3 1 -0.5 1 1.6 1 -0.5 1 -0.2 1 -1.2 1 0.9 1 0.2 1 0.8 1 -0.4 1 -0.3 1 0.4 1 -0.4 1 0.4 1 -0.5 1 -0.2 1 0.7 1 -1 1 0.2 1 -0 1 0.8 1 0.1 1 -0.6 1 0.8 1 0.7 1 -0.3 1 0.1 1 -0.5 1 0.3 1 0.2 1 -1 1 0 1 -1 1 -0.1 1 1.3 1 1.1 1 -0 1 -0.2 1 -0.1 1 -0.8 1 -0.1 1 0 1 -0.5 1 -0.3 1 0.2 1 0.6 1 0.5 1 -0.8 1 -1.3 1 -1.3 1 -0.5 1 -0.6 1 -2.3 1 -3.8 1 0.7 1 2.6 1 -1.1 1 -0.7 1 3.3 1 2.7 1 1.5 1 2V239.0Z"/>
<path fill="#f19185" d="M115 239.0V231.8l1 0.3 1 -0.7 1 0.8 1 -0.3 1 -0.9 1 -0.5 1 0.3 1 -0.3 1 0.1 1 0.3 1 -0.4 1 0.6 1 0.5 1 1 1 0.1 1 -0.6 1 -0.3 1 0.6 1 -0.2 1 -0.2 1 0.1 1 -0.4 1 0.1 1 1 1 0.7 1 -0.3 1 0.3 1 0.1 1 -0.9 1 -0.8 1 0 1 -0.1 1 -0.9 1 0.3 1 0.7 1 0.9 1 0.4 1 -0.4 1 -0.3 1 -0.1 1 0.1 1 0.4 1 -0.1 1 -0.1 1 0.3 1 0.2 1 -0.1 1 0.1 1 -0.1 1 -0.6 1 0.7 1 0.6 1 -0.7 1 -0.9 1 0.2 1 -0.1 1 0.6 1 0.6 1 -0.9 1 -0.6 1 0.4 1 0.3 1 0.6 1 -0.3 1 -1.3 1 0.2 1 1.5 1 1.1 1 -1.1 1 -1.5 1 -0.6 1 -0.1 1 -0.6 1 -0.2 1 0.7 1 1.2 1 0.9 1 -0.5 1 -0.4 1 0.3 1 -0.1 1 0.3 1 0.6 1 0 1 -0.7 1 0 1 0.2 1 0.4 1 1 1 -0.1 1 -0.4 1 -0.5 1 -0.4 1 0.2 1 0 1 -0.5 1 -0.3 1 0.5 1 0.3 1 0.6 1 -0.4 1 -0.6 1 -0.2 1 -0.4 1 0.1 1 0.9 1 0.4 1 0.3 1 0.7 1 -0.5 1 -1.1 1 -0.7 1 0.2 1 -0.3 1 0.7 1 -0.2 1 -0.6 1 -0.1 1 0.4 1 -0.2 1 -0.7 1 -0.4 1 1.2 1 1.8 1 0.5 1 -1.4 1 -1.2 1 -0.2 1 0.7 1 0.3 1 0.3 1 0.1 1 0.3 1 0.4 1 -0.3 1 0.2 1 -0.4 1 -0 1 0.1 1 0.1 1 0.2 1 -0.5 1 -1.3 1 -1.1 1 1.6 1 1 1 0.3 1 0.6 1 0.1 1 -1 1 -0.5 1 0.5 1 0.1 1 -0.5 1 -0.2 1 0.4 1 -1.8 1 0.8 1 0.4 1 0.3 1 0.1 1 -0.2 1 -0.1 1 -0.4 1 0.6 1 0 1 0.3 1 -0.3 1 0.5 1 -0.3 1 -0.6 1 0.7 1 -0.9 1 0.5 1 0.6 1 -1.8 1 0.9 1 0.8 1 0.5 1 0 1 -1.5 1 0.1 1 0.5 1 -0.3 1 -0.3 1 0.5 1 -0.4 1 -1.2 1 -0.6 1 2.2 1 0.3 1 -0.3 1 -0.4 1 1.1 1 -0.8 1 -0.2 1 -0.3 1 0.1 1 0.3 1 -0.5 1 0.2 1 0.1 1 1.1 1 -0.1 1 -0.2 1 0.1 1 0.2 1 -1.6 1 1.1 1 -2 1 1.6 1 -0.2 1 -0.8 1 1.1 1 -0.1 1 -0.9 1 1.5 1 -1.2 1 1.2 1 -1.7 1 0.6 1 -0.3 1 1.3 1 0.7 1 -2.9 1 0.6 1 0.2 1 1 1 -0.2 1 0.8 1 1 1 -1.9 1 0.3 1 0.5 1 -0.1 1 0.3 1 -0.6 1 -0.4 1 0.5 1 -0.4 1 0.7 1 0.6 1 -0.1 1 -1.4 1 -0.5 1 0.6 1 -0.6 1 0.7 1 -0.8 1 1.3 1 -0.3 1 -0.5 1 0.1 1 0.6 1 0 1 -0.5 1 -0.1 1 0.7 1 0.4 1 -1.8 1 0.3 1 0 1 1.4 1 0.4 1 -0.9 1 0.4 1 0.5 1 -0.1 1 -0.7 1 0.6 1 -0.3 1 -0.7 1 0.1 1 0.1 1 0.4 1 -1.1 1 1 1 -0.8 1 1.6 1 -0.4 1 -2.3 1 0.7 1 1.5 1 -1.1 1 -0.1 1 0.6 1 -1 1 -1.2 1 1.1 1 0.9 1 -0.5 1 -0.4 1 0.8 1 -0.6 1 -0.1 1 0.4 1 0.5 1 0.1 1 0.3 1 -0.2 1 0.2 1 -0.2 1 -1.3 1 0.2 1 0.8 1 -0.1 1 0.3 1 -0.8 1 0.4 1 1.4 1 -1.4 1 -0.3 1 0.7 1 0.9 1 -0.6 1 -0.2 1 0.1 1 -0.3 1 0.5 1 -1.1 1 0.2 1 0.5 1 0.5 1 -0 1 0.1 1 -0.3 1 0.1 1 -1.4 1 0.7 1 0.6 1 -1.7 1 0.6 1 -0.9 1 1.7 1 -0.1 1 0.6 1 0.2 1 0.1 1 0.1 1 -0.1 1 0.4 1 0.5 1 -1.4 1 -0.2 1 -0.1 1 -0.4 1 -0.5 1 -0.1 1 1.8 1 -0.9 1 -1.2 1 1.8 1 -0.7 1 1 1 -0.9 1 -1 1 1 1 -2.3 1 1.8 1 -1 1 1 1 -0.2 1 0.8 1 -1 1 0.9 1 -0 1 -1.3 1 0.9 1 0.9 1 0 1 0.1 1 -0.3 1 -1 1 0.8 1 -0.1 1 0.5 1 0.1 1 -0 1 -0.7 1 0.1 1 0.2 1 -0.5 1 0.6 1 0.5 1 -1 1 -0.4 1 1.3 1 -0.7 1 0.5 1 -0.7 1 0.1 1 -0.6 1 0.9 1 0.5 1 -0.9 1 0.8 1 -1.2 1 0.6 1 1 1 0 1 -1.5 1 -0.1 1 0.8 1 -1.3 1 1.8 1 -0.1 1 0 1 -0.6 1 0.2 1 0.3 1 -0.4 1 -1 1 1.2 1 0.3 1 -0.9 1 0.1 1 0.2 1 -0.4 1 -1.1 1 1.4 1 -0 1 0.5 1 -1.2 1 0.6 1 0 1 0.6 1 -0.4 1 0 1 0.6 1 -0.2 1 0.3 1 -0.8 1 -0.3 1 0.8 1 -0.8 1 0.9 1 -0.1 1 0 1 0.2 1 -0.6 1 0.3 1 0.6 1 -0.5 1 -0 1 0.1 1 0.5 1 0.2 1 -1 1 0.4 1 -0.5 1 -0.5 1 1 1 0.9 1 -0 1 -0.3 1 -0.3 1 -0.9 1 -0.1 1 0.6 1 -0.3 1 -0.5 1 -0.1 1 0.3 1 0.2 1 -0.2 1 -2.5 1 -0.6 1 -0.1 1 -0.1 1 0.2 1 -1.6 1 -1.8 1 0.8 1 1 1 1.4 1 0.2 1 -0.4 1 0.4 1 1.2V239.0Z"/>
<path fill="#f4a824" d="M115 239.0V232.2l1 0.1 1 -0.7 1 0.8 1 -0.2 1 -0.9 1 -0.2 1 -0 1 -0 1 -0 1 -0.2 1 -0.1 1 1.1 1 0.3 1 0.4 1 0.1 1 -0.6 1 -0.3 1 0.8 1 0.4 1 -0.4 1 -0.2 1 -0.4 1 0.4 1 0.9 1 0.6 1 -0.2 1 0.1 1 0.1 1 -0.6 1 -0.5 1 -0.4 1 0.2 1 -0.3 1 0.6 1 1.1 1 0.8 1 0.3 1 -0.4 1 -0.3 1 -0.1 1 -0.1 1 -0.2 1 0.1 1 0.5 1 0.2 1 -0.1 1 0.1 1 0.3 1 -0.4 1 -0.5 1 0.6 1 0.5 1 -0.6 1 -0.8 1 -0.2 1 0 1 0.7 1 0.2 1 -1 1 -0 1 0.4 1 0.3 1 0.5 1 -0.1 1 -0.9 1 -0.4 1 1.2 1 1 1 -0.7 1 -1.1 1 -0.7 1 -0.2 1 -0.5 1 -0 1 0.3 1 1 1 1.1 1 -0.5 1 -0.3 1 0.3 1 -0.1 1 0.1 1 0.3 1 0 1 -0.3 1 0.1 1 0.1 1 0 1 0.6 1 0.3 1 0 1 -0.6 1 -0.7 1 0 1 0.2 1 -0.3 1 -0.2 1 0.5 1 0.2 1 0.6 1 -0.3 1 -0.5 1 -0 1 -0.2 1 -0 1 0.6 1 0.4 1 0.4 1 0.2 1 -0.8 1 -0.8 1 -0.4 1 0.2 1 -0 1 0.4 1 -0.5 1 -0.3 1 0.2 1 -0 1 -0.4 1 -0.2 1 -0 1 1.1 1 1.4 1 0.5 1 -1.1 1 -0.9 1 -0.1 1 0.3 1 0.2 1 0.2 1 -0 1 0 1 0.4 1 -0.1 1 0.1 1 -0.2 1 -0.1 1 0.1 1 0.1 1 0.2 1 -0.2 1 -0.9 1 -1 1 1 1 0.9 1 0.1 1 1 1 0.6 1 -0.6 1 0.2 1 0.9 1 0.2 1 -0.3 1 -0 1 0.3 1 -1.7 1 0.8 1 0.5 1 0.3 1 -0.2 1 -0.1 1 -0.1 1 -0.6 1 0.7 1 0.1 1 0.3 1 -0.5 1 0.5 1 -0.1 1 -0.4 1 0.6 1 -0.9 1 0.2 1 0.7 1 -1.6 1 0.8 1 0.5 1 0.1 1 0.3 1 -0.8 1 -0.1 1 0.3 1 -0.1 1 -0.5 1 0.3 1 -0.3 1 -0.6 1 -0.4 1 1.7 1 0.3 1 0.2 1 -0.6 1 0.4 1 -0.6 1 -0 1 -0.6 1 0.3 1 0.5 1 -0.5 1 0 1 0.2 1 1 1 0.1 1 -0.3 1 -0.2 1 0.3 1 -1.1 1 1.3 1 -2.2 1 1.2 1 -0.1 1 -0.4 1 1 1 -0.6 1 -0.8 1 1.5 1 -1.2 1 1.1 1 -1.2 1 0.5 1 -0.7 1 1 1 0.8 1 -2.5 1 0.7 1 0.2 1 1.2 1 -0.5 1 0.3 1 0.5 1 -1.8 1 0.6 1 0.9 1 0.2 1 0.5 1 -0.9 1 -0.4 1 0.9 1 -0.5 1 0.3 1 0.4 1 -0.1 1 -1.1 1 -0.2 1 0.9 1 -0.7 1 0.6 1 -0.8 1 0.9 1 -0.4 1 -0.7 1 0 1 0.8 1 0.1 1 -0.3 1 -0.4 1 0.4 1 0.8 1 -1.6 1 -0.2 1 -0 1 1.5 1 0.2 1 -0.8 1 0.5 1 0.5 1 0.1 1 -0.6 1 0.3 1 -0.1 1 -0.4 1 -0 1 0.2 1 0.4 1 -1.2 1 1.2 1 -1 1 1.4 1 -0.2 1 -2.1 1 0.6 1 1.2 1 -0.8 1 0.1 1 0.6 1 -0.9 1 -1.2 1 0.9 1 0.8 1 -0.5 1 -0.4 1 0.6 1 -0.8 1 -0 1 0.5 1 0.7 1 -0.1 1 -0 1 -0.1 1 0.5 1 -0.1 1 -1.1 1 0.6 1 0.6 1 -0.4 1 0.4 1 -0.7 1 -0 1 0.9 1 -1.2 1 0.2 1 0.8 1 0.4 1 -0.3 1 -0.1 1 0 1 -0.4 1 0.6 1 -1 1 0.1 1 0.6 1 0.3 1 -0.3 1 0.1 1 -0.3 1 0.4 1 -1.3 1 0.2 1 0.3 1 -1.1 1 1.2 1 -0.9 1 1.7 1 -0.3 1 0.2 1 -0.2 1 -0.2 1 0.4 1 0.1 1 0 1 0.2 1 -1 1 0.3 1 0.6 1 -0.1 1 -1 1 -1 1 1.5 1 -0.3 1 -1 1 1.4 1 -0.7 1 1.2 1 -0.9 1 -0.9 1 1.3 1 -2.2 1 1.7 1 -0.9 1 1.1 1 -0.8 1 0.7 1 -0.5 1 1.1 1 -0.1 1 -1.4 1 0.8 1 0.9 1 -0.1 1 0.2 1 -0.3 1 -0.8 1 1 1 -0.3 1 0.2 1 -0 1 -0.1 1 -0.1 1 0.6 1 -0.2 1 -0.8 1 0.6 1 0.4 1 -1.1 1 -0.4 1 1.2 1 -0.8 1 0.7 1 -0.9 1 0.1 1 -0.1 1 0.6 1 0.2 1 -0.6 1 0.9 1 -1.2 1 0.5 1 0.4 1 -0.3 1 -0.9 1 0.3 1 0.9 1 -1.6 1 1.7 1 0.1 1 -0.1 1 -0.6 1 0.2 1 0.3 1 -0.1 1 -1.3 1 1.1 1 0.3 1 -0.9 1 0.5 1 0.5 1 -0.4 1 -1.4 1 1.2 1 -0 1 0.2 1 -1 1 0.9 1 -0.1 1 0 1 -0.2 1 0.5 1 0.1 1 -0.5 1 0.3 1 -0.2 1 -0.1 1 0.8 1 -0.7 1 0.8 1 -0.1 1 0 1 -0 1 -0.7 1 0.2 1 0.6 1 -0.3 1 -0.2 1 0.1 1 0.5 1 0.2 1 -0.8 1 0.6 1 -0.6 1 -0.5 1 1 1 0 1 -0.2 1 -0.2 1 0.3 1 -0.5 1 -0 1 0.4 1 -0.3 1 -0.2 1 -0.2 1 -0.1 1 0 1 0 1 -5.8 1 -0.2 1 -0.3 1 -0.5 1 0.2 1 -1.3 1 -1.7 1 1.1 1 1.2 1 0.8 1 -0.2 1 -0.1 1 0.6 1 1.2V239.0Z"/>
<path fill="#ee8c80" d="M115 239.0V238.7l1 -0 1 -0.1 1 0.1 1 -0.1 1 -0.3 1 -0.1 1 0 1 0.2 1 0 1 -0 1 0 1 -0 1 -0.1 1 0.2 1 0.1 1 -0.1 1 -0.1 1 -0 1 0 1 0.1 1 0.3 1 -0.1 1 -0.1 1 0.1 1 0.2 1 -0 1 -0.1 1 -0.1 1 -0 1 -0.3 1 -0.2 1 -0.1 1 -0.2 1 -0.1 1 0.1 1 -0 1 -0.1 1 -0.1 1 0 1 -0.2 1 0.2 1 0.2 1 -0.3 1 -0.1 1 0.1 1 0.1 1 0.2 1 -0 1 0 1 -0 1 0.2 1 0.1 1 -0.5 1 -0.3 1 0.2 1 -0 1 0 1 0.1 1 -0.2 1 -0 1 0.2 1 -0 1 0 1 0.1 1 -0.4 1 -0.1 1 0.3 1 -0.1 1 0.1 1 0 1 -0.1 1 0 1 0 1 -0.2 1 0 1 0.3 1 0.4 1 -0 1 -0.3 1 0.1 1 0 1 0.1 1 -0 1 -0.1 1 -0.2 1 0.2 1 -0 1 -0.1 1 -0.1 1 0.2 1 0 1 -0.1 1 -0.1 1 0 1 0.1 1 0 1 0 1 -0 1 0 1 0.1 1 -0.1 1 -0.2 1 -0.1 1 0.2 1 -0 1 0 1 0.5 1 0.1 1 -0.2 1 -0.4 1 -0.3 1 0.1 1 0.1 1 0.3 1 0.5 1 -0.1 1 -0.5 1 -0 1 0.1 1 -0.1 1 0.1 1 -0.3 1 -0 1 0.3 1 0.1 1 -0.2 1 0.1 1 -0.1 1 0.1 1 -0.2 1 0.1 1 0.1 1 0.1 1 -0 1 0.1 1 -0.1 1 -0.1 1 -0.1 1 0 1 -0.2 1 0.2 1 0.1 1 -0.4 1 -0 1 0.3 1 0.1 1 0 1 0 1 -0.1 1 -0.2 1 0 1 0.1 1 0 1 0 1 -0.1 1 0 1 0.2 1 -0.2 1 -0.2 1 0.2 1 0 1 -0.1 1 0.2 1 0.2 1 -0.1 1 0.1 1 0 1 -0.1 1 0.1 1 0.1 1 -0 1 -0.1 1 -0.2 1 0.2 1 -0.1 1 -0.2 1 0 1 -0.1 1 0 1 0.3 1 0.2 1 -0.2 1 -0.2 1 -0 1 0 1 -0.1 1 0.1 1 0.2 1 -0.2 1 0.1 1 0.2 1 -0.2 1 -0.2 1 0.1 1 0.4 1 -0.1 1 -0.1 1 0.1 1 0.1 1 0 1 -0.2 1 0.1 1 0.1 1 -0 1 -0.1 1 -0.2 1 0 1 0.2 1 0.1 1 -0.1 1 -0.2 1 -0 1 0.1 1 0.1 1 -0 1 0 1 0.1 1 -0.3 1 0.2 1 -0.1 1 -0.2 1 0.1 1 0.1 1 0.2 1 0.1 1 -0.3 1 -0.1 1 0.1 1 -0.1 1 0.2 1 0.1 1 -0.2 1 -0.1 1 0 1 0.3 1 0.2 1 0.1 1 -0.1 1 -0 1 -0.1 1 -0.2 1 0.1 1 -0 1 -0.4 1 0.2 1 0.1 1 -0.3 1 0 1 0.4 1 0.2 1 -0.2 1 -0.3 1 0.1 1 0.1 1 -0.1 1 -0.1 1 0.3 1 0 1 -0.1 1 -0.5 1 -0.1 1 0.2 1 0.2 1 0.1 1 0.3 1 -0.1 1 0.1 1 0.1 1 -0.2 1 -0.1 1 -0.2 1 -0.1 1 0.2 1 0.1 1 -0.1 1 -0.1 1 0 1 0.4 1 0.2 1 -0.4 1 -0.4 1 0.1 1 0.1 1 -0.1 1 0 1 0.1 1 0.1 1 0 1 0 1 0.2 1 0 1 -0.2 1 -0.2 1 -0 1 0 1 -0.1 1 -0.2 1 0.2 1 -0 1 -0.1 1 0.2 1 0.1 1 -0.2 1 -0.1 1 0.2 1 0.1 1 0.1 1 0.1 1 -0.2 1 0.2 1 0.2 1 -0 1 0.1 1 -0.1 1 -0.2 1 -0 1 -0.1 1 0.1 1 -0.1 1 -0.2 1 -0.1 1 0 1 0.2 1 0.1 1 -0.1 1 -0 1 0.1 1 -0 1 -0 1 -0 1 -0.1 1 -0.2 1 0.2 1 0.1 1 -0.1 1 -0.1 1 0 1 0 1 0.1 1 0.3 1 -0 1 -0 1 -0.1 1 0.1 1 0 1 -0.2 1 -0.3 1 0.1 1 0 1 0 1 0.4 1 0.2 1 -0.2 1 -0.2 1 -0.3 1 -0 1 0.2 1 -0.3 1 -0.1 1 0.2 1 -0 1 -0.1 1 0.2 1 0.2 1 0.1 1 0.1 1 -0.2 1 -0 1 -0.1 1 0.1 1 0 1 -0.1 1 0.1 1 0 1 0.2 1 -0.1 1 0 1 0 1 0.2 1 0.2 1 -0.2 1 -0.3 1 0 1 0.3 1 0.2 1 -0.2 1 -0.1 1 -0 1 -0.1 1 -0.2 1 -0.2 1 0.2 1 0.2 1 -0 1 0 1 0.1 1 -0.2 1 -0 1 -0 1 -0.3 1 0 1 0 1 -0 1 0.2 1 0.3 1 -0.1 1 -0.2 1 0.1 1 -0 1 -0.2 1 -0.2 1 0 1 0.2 1 0.1 1 -0.1 1 0.1 1 -0 1 -0.1 1 0.1 1 0.1 1 -0.1 1 0 1 0.1 1 0.2 1 -0 1 0 1 0.1 1 -0.1 1 -0.4 1 0.1 1 -0 1 -0.1 1 0.1 1 0.1 1 0.2 1 -0.1 1 -0.1 1 -0.1 1 0.1 1 0.3 1 0.2 1 -0.3 1 -0.3 1 -0 1 0.2 1 0.4 1 0.1 1 -0.3 1 -0.1 1 -0.1 1 -0.1 1 0.1 1 0.2 1 -0.1 1 -0.2 1 -0 1 -0.2 1 -0.1 1 0.2 1 0.2 1 0.1 1 -0.1 1 -0.2 1 -0 1 0.1 1 0.4 1 -0 1 0.2 1 -0.1 1 -0.2 1 -0.1 1 0.3 1 0.2 1 -0.1 1 0 1 0 1 -0.1 1 -0.1 1 0.2V239.0Z"/><rect x="444.8" y="78.7" width="2" height="80" fill="#a4a2a6"/><rect x="444.5" y="158" width="2" height="56" fill="#a89ee6" opacity="0.85"/><rect x="443" y="211.5" width="2.5" height="3" fill="#2d5fdc"/><rect x="318.5" y="160" width="2" height="46" fill="#a89ee6" opacity="0.55"/><rect x="286.5" y="150" width="1.5" height="52" fill="#c8c0e8" opacity="0.35"/><rect x="242" y="212" width="2" height="2.5" fill="#2d5fdc" opacity="0.8"/></g>
<line x1="114.5" x2="114.5" y1="55" y2="243" stroke="#404040" stroke-width="1"/>
<line x1="110" x2="598" y1="239.4" y2="239.4" stroke="#4a2424" stroke-width="1.2"/>
<line x1="135.5" x2="135.5" y1="239.0" y2="241.5" class="tk"/>
<line x1="215.5" x2="215.5" y1="239.0" y2="241.5" class="tk"/>
<line x1="295.5" x2="295.5" y1="239.0" y2="241.5" class="tk"/>
<line x1="375.5" x2="375.5" y1="239.0" y2="241.5" class="tk"/>
<line x1="456.5" x2="456.5" y1="239.0" y2="241.5" class="tk"/>
<line x1="536.5" x2="536.5" y1="239.0" y2="241.5" class="tk"/>
<polygon points="111.5,56 117.5,56 114.5,51" fill="#8a1f1f"/>
<polygon points="598,236 598,242 603,239" fill="#8a1f1f"/>
<text x="325" y="40.7" class="ttl" text-anchor="middle">VMs aggregated: last day</text>
<text transform="translate(137.2,253.8) scale(1,0.89)" class="ax" text-anchor="middle">16</text>
<text transform="translate(217.2,253.8) scale(1,0.89)" class="ax" text-anchor="middle">20</text>
<text transform="translate(297.2,253.8) scale(1,0.89)" class="ax" text-anchor="middle">00</text>
<text transform="translate(377.2,253.8) scale(1,0.89)" class="ax" text-anchor="middle">04</text>
<text transform="translate(458.2,253.8) scale(1,0.89)" class="ax" text-anchor="middle">08</text>
<text transform="translate(538.2,253.8) scale(1,0.89)" class="ax" text-anchor="middle">12</text>
<text transform="translate(107.5,243.6) scale(1,0.89)" class="ax" text-anchor="end">0</text>
<text transform="translate(107.5,161.3) scale(1,0.89)" class="ax" text-anchor="end">10</text>
<text transform="translate(107.5,79.1) scale(1,0.89)" class="ax" text-anchor="end">20</text>
<text transform="translate(53.3,148.2) rotate(-90) scale(1,0.86)" class="yl" text-anchor="middle">CPU GHz</text>
<g fill="#858585" transform="translate(556.5,32)">
<rect x="-1.4" y="-7" width="2.8" height="14"/>
<rect x="-7" y="-1.4" width="14" height="2.8"/>
<polygon points="0,-11 -5,-6 5,-6"/>
<polygon points="0,11 -5,6 5,6"/>
<polygon points="-11,0 -6,-5 -6,5"/>
<polygon points="11,0 6,-5 6,5"/>
</g>
</svg>
<div class="cap">Utilization in CPU GHz</div>
<div class="tbl">
<div class="hdr"></div>
<div style="position:absolute;left:402.5px;top:0;width:120px;height:18px;background:linear-gradient(#e8f0fa,#d8e6f7)"></div>
<div class="vl" style="left:14.0px;height:18px;background:#d8d8d8"></div>
<div class="vl" style="left:149.0px;height:18px;background:#d8d8d8"></div>
<div class="vl" style="left:281.4px;height:18px;background:#d8d8d8"></div>
<svg style="position:absolute;left:1px;top:3px" width="13" height="13" viewBox="-6.5 -6.5 13 13"><g fill="#7c7c7c"><rect x="-0.8" y="-4" width="1.6" height="8"/><rect x="-4" y="-0.8" width="8" height="1.6"/><polygon points="0,-6.5 -3,-3.5 3,-3.5"/><polygon points="0,6.5 -3,3.5 3,3.5"/><polygon points="-6.5,0 -3.5,-3 -3.5,3"/><polygon points="6.5,0 3.5,-3 3.5,3"/></g></svg>
<div class="hc" style="left:18.5px">Server</div>
<svg style="position:absolute;left:138.3px;top:0.4px" width="12" height="14" viewBox="0 0 12 14"><polyline points="1.2,4.9 6,1.5 10.3,4.9" fill="none" stroke="#2a4658" stroke-width="1.7" stroke-linejoin="round"/><polyline points="1.2,7.4 6,10.9 10.3,7.4" fill="none" stroke="#2a4658" stroke-width="1.7" stroke-linejoin="round"/></svg>
<div class="hc" style="left:153.5px">VM</div>
<svg style="position:absolute;left:270.6px;top:0.4px" width="12" height="14" viewBox="0 0 12 14"><polyline points="1.2,4.9 6,1.5 10.3,4.9" fill="none" stroke="#2a4658" stroke-width="1.7" stroke-linejoin="round"/><polyline points="1.2,7.4 6,10.9 10.3,7.4" fill="none" stroke="#2a4658" stroke-width="1.7" stroke-linejoin="round"/></svg>
<div class="hc" style="right:141px">Avrg</div>
<svg style="position:absolute;left:391.8px;top:0.4px" width="12" height="14" viewBox="0 0 12 14"><polyline points="1.2,4.9 6,1.5 10.3,4.9" fill="none" stroke="#2a4658" stroke-width="1.7" stroke-linejoin="round"/><polyline points="1.2,7.4 6,10.9 10.3,7.4" fill="none" stroke="#2a4658" stroke-width="1.7" stroke-linejoin="round"/></svg>
<div class="hc" style="right:21px">Max</div>
<svg style="position:absolute;left:512.1px;top:0.4px" width="12" height="14" viewBox="0 0 12 14"><polyline points="1.2,4.9 6,1.5 10.3,4.9" fill="none" stroke="#2a4658" stroke-width="1.7" stroke-linejoin="round"/><polygon points="0.6,7.2 10.8,7.2 5.8,12.6" fill="#1e4c7c"/></svg>
<div class="band"></div>
<div class="body">
<div class="row" style="top:0px"><div class="sw" style="background:#7070f0"></div><div class="cell" style="left:20.5px">esxi20-vcenter30</div><div class="cell" style="left:155px">ts01</div><div class="cell" style="right:125.5px">1.95</div><div class="cell" style="right:6px">5.01</div></div>
<div class="row" style="top:15px"><div class="sw" style="background:#1ee81e"></div><div class="cell" style="left:20.5px">esxi18-vcenter30</div><div class="cell" style="left:155px">VM07</div><div class="cell" style="right:125.5px">1.13</div><div class="cell" style="right:6px">2.14</div></div>
<div class="row" style="top:30px"><div class="sw" style="background:#888888"></div><div class="cell" style="left:20.5px">esxi18-vcenter30</div><div class="cell" style="left:155px">chef</div><div class="cell" style="right:125.5px">1.68</div><div class="cell" style="right:6px">1.73</div></div>
<div class="row" style="top:45px"><div class="sw" style="background:#c41a1a"></div><div class="cell" style="left:20.5px">esxi24-vcenter30</div><div class="cell" style="left:155px">controller</div><div class="cell" style="right:125.5px">1.34</div><div class="cell" style="right:6px">1.36</div></div>
<div class="row" style="top:60px"><div class="sw" style="background:#f7a30c"></div><div class="cell" style="left:20.5px">esxi24-vcenter30</div><div class="cell" style="left:155px">ICN</div><div class="cell" style="right:125.5px">0.19</div><div class="cell" style="right:6px">1.28</div></div>
<div class="row" style="top:75px"><div class="sw" style="background:#2d5fdc"></div><div class="cell" style="left:20.5px">esxi20-vcenter30</div><div class="cell" style="left:155px">data1</div><div class="cell" style="right:125.5px">0.04</div><div class="cell" style="right:6px">1.22</div></div>
<div class="row" style="top:90px"><div class="sw" style="background:#7f36c4"></div><div class="cell" style="left:20.5px">esxi20-vcenter30</div><div class="cell" style="left:155px">data</div><div class="cell" style="right:125.5px">0.08</div><div class="cell" style="right:6px">1.14</div></div>
<div class="vl" style="left:14.0px;height:105px"></div>
<div class="vl" style="left:149.0px;height:105px"></div>
<div class="vl" style="left:281.4px;height:105px"></div>
<div class="vl" style="left:401.8px;height:105px"></div>
<div class="vl" style="left:521.9px;height:105px;background:#c8c8c8"></div>
</div>
</div>
<div class="sb"><div class="sbt"></div></div>
</body></html>
